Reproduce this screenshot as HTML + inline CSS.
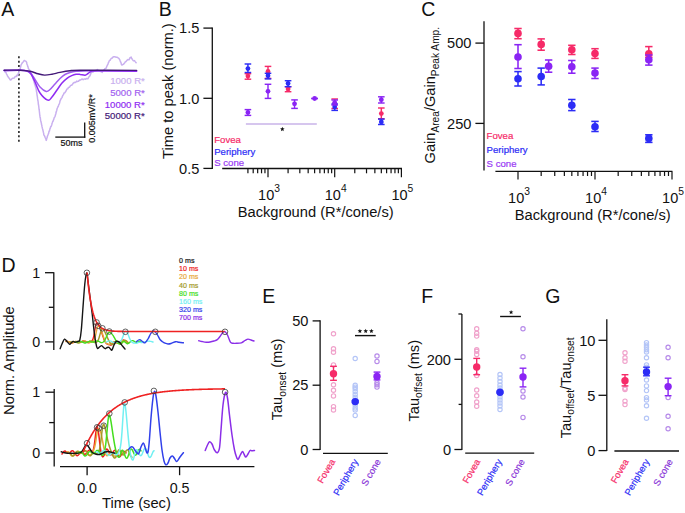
<!DOCTYPE html>
<html><head><meta charset="utf-8"><style>html,body{margin:0;padding:0;background:#fff;width:685px;height:513px;overflow:hidden;}svg{display:block;}text{font-family:"Liberation Sans", sans-serif;}</style></head><body>
<svg width="685" height="513" viewBox="0 0 685 513">
<rect width="685" height="513" fill="#fff"/>
<text x="1.20" y="15.70" font-size="19.5" fill="#111111"  text-anchor="start" >A</text>
<text x="158.70" y="15.70" font-size="19.5" fill="#111111"  text-anchor="start" >B</text>
<text x="421.20" y="15.50" font-size="19.5" fill="#111111"  text-anchor="start" >C</text>
<text x="1.60" y="271.60" font-size="19.5" fill="#111111"  text-anchor="start" >D</text>
<text x="262.30" y="303.40" font-size="19.5" fill="#111111"  text-anchor="start" >E</text>
<text x="421.30" y="303.40" font-size="19.5" fill="#111111"  text-anchor="start" >F</text>
<text x="545.30" y="303.30" font-size="19.5" fill="#111111"  text-anchor="start" >G</text>
<line x1="18.90" y1="56.30" x2="18.90" y2="141.80" stroke="#222" stroke-width="1.6" stroke-dasharray="2 2.39"/>
<path d="M4.10,70.31 L4.73,70.95 L5.37,72.33 L6.00,72.53 L6.40,73.84 L6.80,74.45 L7.20,74.91 L7.60,76.21 L8.00,76.49 L8.55,77.68 L9.10,78.03 L9.65,78.80 L10.20,79.92 L11.10,79.86 L12.00,78.59 L12.75,78.20 L13.50,78.14 L14.17,77.99 L14.83,77.08 L15.50,76.39 L16.23,76.59 L16.97,75.13 L17.70,75.59 L18.06,74.13 L18.42,73.13 L18.78,72.26 L19.14,71.63 L19.50,71.35 L19.72,69.87 L19.94,69.53 L20.17,68.82 L20.39,67.75 L20.61,67.16 L20.83,65.85 L21.06,65.07 L21.28,64.45 L21.50,64.20 L22.02,63.29 L22.53,62.53 L23.05,62.19 L23.57,61.42 L24.08,60.61 L24.60,60.52 L25.23,61.02 L25.87,61.12 L26.50,62.08 L26.73,62.82 L26.97,63.99 L27.20,64.62 L27.43,64.92 L27.67,66.47 L27.90,66.31 L28.13,67.43 L28.37,68.59 L28.60,68.72 L29.10,69.81 L29.60,70.04 L30.10,71.46 L30.60,72.29 L30.90,72.83 L31.20,73.91 L31.50,74.05 L31.80,75.21 L32.10,75.85 L32.40,76.59 L32.70,77.20 L33.00,78.37 L33.23,79.29 L33.46,79.57 L33.69,80.58 L33.92,80.72 L34.15,82.22 L34.38,82.96 L34.62,84.14 L34.85,84.75 L35.08,84.96 L35.31,85.87 L35.54,86.99 L35.77,87.07 L36.00,88.36 L36.13,88.87 L36.27,89.66 L36.40,90.43 L36.53,92.06 L36.67,92.19 L36.80,93.16 L36.93,94.16 L37.07,95.53 L37.20,95.50 L37.33,96.74 L37.47,97.69 L37.60,98.90 L37.73,99.67 L37.87,100.56 L38.00,100.76 L38.11,101.72 L38.21,102.48 L38.32,103.87 L38.42,104.77 L38.53,104.69 L38.63,105.54 L38.74,106.42 L38.84,107.23 L38.95,108.33 L39.05,109.26 L39.16,109.71 L39.26,110.24 L39.37,111.52 L39.47,112.28 L39.58,113.31 L39.68,114.55 L39.79,115.08 L39.89,115.70 L40.00,116.63 L40.15,117.50 L40.31,117.62 L40.46,119.36 L40.62,120.04 L40.77,120.95 L40.92,121.67 L41.08,122.04 L41.23,122.85 L41.38,123.33 L41.54,124.72 L41.69,124.90 L41.85,125.72 L42.00,126.68 L42.20,127.43 L42.40,128.42 L42.60,128.91 L42.80,129.65 L43.00,130.62 L43.20,131.36 L43.40,132.45 L43.60,132.88 L43.80,134.61 L44.00,135.13 L44.37,135.45 L44.73,136.39 L45.10,137.33 L45.47,138.18 L45.83,138.75 L46.20,140.38 L46.50,139.71 L46.80,138.30 L47.10,137.48 L47.40,136.21 L47.70,135.40 L48.00,134.83 L48.29,133.88 L48.57,133.65 L48.86,132.06 L49.14,131.05 L49.43,131.21 L49.71,129.89 L50.00,128.61 L50.30,128.26 L50.60,126.90 L50.90,126.67 L51.20,126.38 L51.50,125.46 L51.80,124.49 L52.10,123.22 L52.40,122.55 L52.73,121.50 L53.05,121.32 L53.38,120.22 L53.70,119.66 L54.02,118.33 L54.35,117.37 L54.67,117.18 L55.00,116.53 L55.25,115.59 L55.50,114.74 L55.75,113.95 L56.00,113.06 L56.25,111.70 L56.50,111.22 L56.75,110.24 L57.00,109.08 L57.25,108.28 L57.50,107.76 L57.80,106.95 L58.10,106.63 L58.40,106.14 L58.70,104.79 L59.00,104.54 L59.30,103.80 L59.60,102.98 L59.90,101.54 L60.20,100.59 L60.55,99.86 L60.90,99.09 L61.25,98.36 L61.60,98.09 L61.95,97.65 L62.30,96.85 L62.65,95.71 L63.00,95.17 L63.50,94.62 L64.00,93.11 L64.50,93.03 L65.00,92.59 L65.50,91.74 L66.00,90.99 L66.50,89.98 L67.12,88.90 L67.75,88.82 L68.38,87.57 L69.00,87.33 L69.67,86.97 L70.35,85.79 L71.03,85.24 L71.70,85.29 L72.36,84.53 L73.02,83.40 L73.68,82.83 L74.34,82.34 L75.00,82.65 L75.82,82.19 L76.63,81.11 L77.45,81.51 L78.27,81.33 L79.08,80.62 L79.90,79.94 L80.72,79.93 L81.54,79.25 L82.36,78.91 L83.18,79.74 L84.00,79.16 L84.80,78.89 L85.60,79.20 L86.40,78.51 L87.20,78.85 L88.00,78.66 L88.67,77.22 L89.33,76.49 L90.00,75.77 L90.33,74.71 L90.67,74.10 L91.00,72.74 L91.75,72.41 L92.50,71.59 L93.25,71.95 L94.00,70.84 L94.85,70.60 L95.70,70.39 L96.55,70.39 L97.40,69.51 L98.27,70.53 L99.13,70.54 L100.00,71.04 L100.70,71.53 L101.40,71.47 L102.10,72.43 L102.73,71.32 L103.37,70.29 L104.00,70.33 L104.73,68.91 L105.47,68.50 L106.20,68.05 L106.56,67.06 L106.92,66.01 L107.29,65.42 L107.65,64.66 L108.01,64.11 L108.38,62.57 L108.74,62.27 L109.10,61.12 L109.58,60.47 L110.06,60.34 L110.54,59.37 L111.02,58.75 L111.50,58.29 L112.27,58.02 L113.03,57.07 L113.80,56.82 L114.67,56.86 L115.55,57.01 L116.42,57.36 L117.30,57.25 L118.07,57.90 L118.83,58.41 L119.60,59.49 L119.90,60.03 L120.20,61.04 L120.50,61.92 L120.80,61.99 L121.10,63.13 L121.40,64.36 L121.70,65.06 L122.00,65.10 L122.77,64.48 L123.53,64.24 L124.30,63.23 L124.78,62.71 L125.26,61.83 L125.74,61.79 L126.22,61.21 L126.70,60.64 L127.85,59.52 L129.00,59.84 L129.45,59.05 L129.90,57.76 L130.35,57.85 L130.80,57.21 L131.23,57.12 L131.65,58.65 L132.07,58.76 L132.50,59.59 L133.17,60.61 L133.83,60.90 L134.50,60.63 L135.20,61.62 L135.90,62.42 L136.60,63.10" fill="none" stroke="#c9b0ef" stroke-width="1.5" stroke-linejoin="round" />
<path d="M4.10,70.50 C6.75,70.47 16.18,70.22 20.00,70.30 C23.82,70.38 25.17,70.47 27.00,71.00 C28.83,71.53 29.67,72.08 31.00,73.50 C32.33,74.92 33.50,77.25 35.00,79.50 C36.50,81.75 38.13,85.00 40.00,87.00 C41.87,89.00 44.53,91.08 46.20,91.50 C47.87,91.92 48.53,90.75 50.00,89.50 C51.47,88.25 53.33,85.83 55.00,84.00 C56.67,82.17 58.33,80.08 60.00,78.50 C61.67,76.92 63.33,75.50 65.00,74.50 C66.67,73.50 68.17,73.03 70.00,72.50 C71.83,71.97 73.67,71.57 76.00,71.30 C78.33,71.03 80.00,70.98 84.00,70.90 C88.00,70.82 91.23,70.83 100.00,70.80 C108.77,70.77 130.50,70.72 136.60,70.70" fill="none" stroke="#a25ff0" stroke-width="1.5" stroke-linejoin="round" stroke-linecap="round" />
<path d="M4.10,70.50 C6.75,70.47 16.18,70.22 20.00,70.30 C23.82,70.38 25.17,70.38 27.00,71.00 C28.83,71.62 29.67,72.17 31.00,74.00 C32.33,75.83 33.50,78.83 35.00,82.00 C36.50,85.17 37.87,89.98 40.00,93.00 C42.13,96.02 45.80,99.43 47.80,100.10 C49.80,100.77 50.47,98.68 52.00,97.00 C53.53,95.32 55.33,92.33 57.00,90.00 C58.67,87.67 60.33,84.95 62.00,83.00 C63.67,81.05 65.38,79.53 67.00,78.30 C68.62,77.07 70.20,76.27 71.70,75.60 C73.20,74.93 74.62,74.50 76.00,74.30 C77.38,74.10 78.48,74.25 80.00,74.40 C81.52,74.55 83.77,75.35 85.10,75.20 C86.43,75.05 86.92,74.15 88.00,73.50 C89.08,72.85 89.60,71.75 91.60,71.30 C93.60,70.85 92.50,70.82 100.00,70.80 C107.50,70.78 130.50,71.13 136.60,71.20" fill="none" stroke="#8f2cf2" stroke-width="1.5" stroke-linejoin="round" stroke-linecap="round" />
<path d="M4.10,70.20 C6.75,70.20 15.68,70.03 20.00,70.20 C24.32,70.37 27.00,70.60 30.00,71.20 C33.00,71.80 35.57,73.15 38.00,73.80 C40.43,74.45 42.27,75.03 44.60,75.10 C46.93,75.17 49.43,74.65 52.00,74.20 C54.57,73.75 57.00,72.97 60.00,72.40 C63.00,71.83 66.67,71.15 70.00,70.80 C73.33,70.45 68.90,70.37 80.00,70.30 C91.10,70.23 127.17,70.38 136.60,70.40" fill="none" stroke="#431878" stroke-width="1.4" stroke-linejoin="round" stroke-linecap="round" />
<line x1="55.30" y1="137.10" x2="85.30" y2="137.10" stroke="#111111" stroke-width="1.3" />
<line x1="84.70" y1="122.50" x2="84.70" y2="137.70" stroke="#111111" stroke-width="1.3" />
<text x="82.40" y="146.10" font-size="9.0" fill="#111111" stroke="#111111" stroke-width="0.2" text-anchor="end" >50ms</text>
<text transform="translate(95.4,142.8) rotate(-90)" font-size="9.0" fill="#111111" stroke="#111111" stroke-width="0.2">0.005mV/R*</text>
<text x="144.80" y="83.60" font-size="9.6" fill="#c9b0ef" stroke="#c9b0ef" stroke-width="0.2" text-anchor="end" >1000 R*</text>
<text x="144.80" y="95.60" font-size="9.6" fill="#a25ff0" stroke="#a25ff0" stroke-width="0.2" text-anchor="end" >5000 R*</text>
<text x="144.80" y="107.50" font-size="9.6" fill="#8f2cf2" stroke="#8f2cf2" stroke-width="0.2" text-anchor="end" >10000 R*</text>
<text x="144.80" y="119.10" font-size="9.6" fill="#431878" stroke="#431878" stroke-width="0.2" text-anchor="end" >50000 R*</text>
<line x1="212.30" y1="27.50" x2="212.30" y2="169.10" stroke="#111111" stroke-width="1.3" />
<line x1="203.40" y1="28.10" x2="212.30" y2="28.10" stroke="#111111" stroke-width="1.3" />
<text x="199.40" y="33.40" font-size="14.6" fill="#111111"  text-anchor="end" >1.5</text>
<line x1="203.40" y1="98.30" x2="212.30" y2="98.30" stroke="#111111" stroke-width="1.3" />
<text x="199.40" y="103.60" font-size="14.6" fill="#111111"  text-anchor="end" >1.0</text>
<line x1="203.40" y1="168.40" x2="212.30" y2="168.40" stroke="#111111" stroke-width="1.3" />
<text x="199.40" y="173.70" font-size="14.6" fill="#111111"  text-anchor="end" >0.5</text>
<line x1="222.20" y1="168.50" x2="402.00" y2="168.50" stroke="#111111" stroke-width="1.3" />
<line x1="247.92" y1="168.50" x2="247.92" y2="173.30" stroke="#111111" stroke-width="1.2" />
<line x1="253.20" y1="168.50" x2="253.20" y2="173.30" stroke="#111111" stroke-width="1.2" />
<line x1="257.67" y1="168.50" x2="257.67" y2="173.30" stroke="#111111" stroke-width="1.2" />
<line x1="261.54" y1="168.50" x2="261.54" y2="173.30" stroke="#111111" stroke-width="1.2" />
<line x1="264.95" y1="168.50" x2="264.95" y2="173.30" stroke="#111111" stroke-width="1.2" />
<line x1="268.00" y1="168.50" x2="268.00" y2="177.20" stroke="#111111" stroke-width="1.2" />
<line x1="288.08" y1="168.50" x2="288.08" y2="173.30" stroke="#111111" stroke-width="1.2" />
<line x1="299.82" y1="168.50" x2="299.82" y2="173.30" stroke="#111111" stroke-width="1.2" />
<line x1="308.16" y1="168.50" x2="308.16" y2="173.30" stroke="#111111" stroke-width="1.2" />
<line x1="314.62" y1="168.50" x2="314.62" y2="173.30" stroke="#111111" stroke-width="1.2" />
<line x1="319.90" y1="168.50" x2="319.90" y2="173.30" stroke="#111111" stroke-width="1.2" />
<line x1="324.37" y1="168.50" x2="324.37" y2="173.30" stroke="#111111" stroke-width="1.2" />
<line x1="328.24" y1="168.50" x2="328.24" y2="173.30" stroke="#111111" stroke-width="1.2" />
<line x1="331.65" y1="168.50" x2="331.65" y2="173.30" stroke="#111111" stroke-width="1.2" />
<line x1="334.70" y1="168.50" x2="334.70" y2="177.20" stroke="#111111" stroke-width="1.2" />
<line x1="354.78" y1="168.50" x2="354.78" y2="173.30" stroke="#111111" stroke-width="1.2" />
<line x1="366.52" y1="168.50" x2="366.52" y2="173.30" stroke="#111111" stroke-width="1.2" />
<line x1="374.86" y1="168.50" x2="374.86" y2="173.30" stroke="#111111" stroke-width="1.2" />
<line x1="381.32" y1="168.50" x2="381.32" y2="173.30" stroke="#111111" stroke-width="1.2" />
<line x1="386.60" y1="168.50" x2="386.60" y2="173.30" stroke="#111111" stroke-width="1.2" />
<line x1="391.07" y1="168.50" x2="391.07" y2="173.30" stroke="#111111" stroke-width="1.2" />
<line x1="394.94" y1="168.50" x2="394.94" y2="173.30" stroke="#111111" stroke-width="1.2" />
<line x1="398.35" y1="168.50" x2="398.35" y2="173.30" stroke="#111111" stroke-width="1.2" />
<line x1="401.40" y1="168.50" x2="401.40" y2="177.20" stroke="#111111" stroke-width="1.2" />
<text x="269.00" y="199.90" font-size="14.5" fill="#111111" text-anchor="middle">10<tspan font-size="10.3" dy="-8.1">3</tspan></text>
<text x="335.70" y="199.90" font-size="14.5" fill="#111111" text-anchor="middle">10<tspan font-size="10.3" dy="-8.1">4</tspan></text>
<text x="402.40" y="199.90" font-size="14.5" fill="#111111" text-anchor="middle">10<tspan font-size="10.3" dy="-8.1">5</tspan></text>
<text x="315.70" y="216.90" font-size="14.7" fill="#111111"  text-anchor="middle" >Background (R*/cone/s)</text>
<text transform="translate(172.6,159.0) rotate(-90)" font-size="14.7" fill="#111111">Time to peak (norm.)</text>
<text x="214.20" y="143.00" font-size="9.6" fill="#f62a68" stroke="#f62a68" stroke-width="0.2" text-anchor="start" >Fovea</text>
<text x="214.20" y="154.50" font-size="9.6" fill="#2c2cf6" stroke="#2c2cf6" stroke-width="0.2" text-anchor="start" >Periphery</text>
<text x="214.20" y="165.60" font-size="9.6" fill="#9838f4" stroke="#9838f4" stroke-width="0.2" text-anchor="start" >S cone</text>
<line x1="245.90" y1="123.90" x2="316.80" y2="123.90" stroke="#d6c6ee" stroke-width="2.0" />
<polygon points="282.35,126.80 282.97,128.35 284.63,128.46 283.35,129.52 283.76,131.14 282.35,130.25 280.94,131.14 281.35,129.52 280.07,128.46 281.73,128.35" fill="#111111"/>
<line x1="247.92" y1="73.70" x2="247.92" y2="79.20" stroke="#f62a68" stroke-width="1.45" />
<line x1="244.62" y1="73.70" x2="251.22" y2="73.70" stroke="#f62a68" stroke-width="1.45" />
<line x1="244.62" y1="79.20" x2="251.22" y2="79.20" stroke="#f62a68" stroke-width="1.45" />
<circle cx="247.92" cy="76.10" r="2.4" fill="#f62a68" />
<line x1="247.92" y1="64.00" x2="247.92" y2="72.50" stroke="#2c2cf6" stroke-width="1.45" />
<line x1="244.62" y1="64.00" x2="251.22" y2="64.00" stroke="#2c2cf6" stroke-width="1.45" />
<line x1="244.62" y1="72.50" x2="251.22" y2="72.50" stroke="#2c2cf6" stroke-width="1.45" />
<circle cx="247.92" cy="68.60" r="2.4" fill="#2c2cf6" />
<line x1="247.92" y1="109.60" x2="247.92" y2="115.40" stroke="#8a24f4" stroke-width="1.45" />
<line x1="244.62" y1="109.60" x2="251.22" y2="109.60" stroke="#8a24f4" stroke-width="1.45" />
<line x1="244.62" y1="115.40" x2="251.22" y2="115.40" stroke="#8a24f4" stroke-width="1.45" />
<circle cx="247.92" cy="112.40" r="2.4" fill="#8a24f4" />
<line x1="268.00" y1="66.40" x2="268.00" y2="78.40" stroke="#f62a68" stroke-width="1.45" />
<line x1="264.70" y1="66.40" x2="271.30" y2="66.40" stroke="#f62a68" stroke-width="1.45" />
<line x1="264.70" y1="78.40" x2="271.30" y2="78.40" stroke="#f62a68" stroke-width="1.45" />
<circle cx="268.00" cy="71.40" r="2.4" fill="#f62a68" />
<line x1="268.00" y1="73.30" x2="268.00" y2="78.90" stroke="#2c2cf6" stroke-width="1.45" />
<line x1="264.70" y1="73.30" x2="271.30" y2="73.30" stroke="#2c2cf6" stroke-width="1.45" />
<line x1="264.70" y1="78.90" x2="271.30" y2="78.90" stroke="#2c2cf6" stroke-width="1.45" />
<circle cx="268.00" cy="75.70" r="2.4" fill="#2c2cf6" />
<line x1="268.00" y1="84.30" x2="268.00" y2="98.40" stroke="#8a24f4" stroke-width="1.45" />
<line x1="264.70" y1="84.30" x2="271.30" y2="84.30" stroke="#8a24f4" stroke-width="1.45" />
<line x1="264.70" y1="98.40" x2="271.30" y2="98.40" stroke="#8a24f4" stroke-width="1.45" />
<circle cx="268.00" cy="91.30" r="2.4" fill="#8a24f4" />
<line x1="288.08" y1="86.70" x2="288.08" y2="91.70" stroke="#f62a68" stroke-width="1.45" />
<line x1="284.78" y1="86.70" x2="291.38" y2="86.70" stroke="#f62a68" stroke-width="1.45" />
<line x1="284.78" y1="91.70" x2="291.38" y2="91.70" stroke="#f62a68" stroke-width="1.45" />
<circle cx="288.08" cy="89.00" r="2.4" fill="#f62a68" />
<line x1="288.08" y1="80.70" x2="288.08" y2="86.70" stroke="#2c2cf6" stroke-width="1.45" />
<line x1="284.78" y1="80.70" x2="291.38" y2="80.70" stroke="#2c2cf6" stroke-width="1.45" />
<line x1="284.78" y1="86.70" x2="291.38" y2="86.70" stroke="#2c2cf6" stroke-width="1.45" />
<circle cx="288.08" cy="83.50" r="2.4" fill="#2c2cf6" />
<line x1="294.54" y1="99.90" x2="294.54" y2="108.40" stroke="#8a24f4" stroke-width="1.45" />
<line x1="291.24" y1="99.90" x2="297.84" y2="99.90" stroke="#8a24f4" stroke-width="1.45" />
<line x1="291.24" y1="108.40" x2="297.84" y2="108.40" stroke="#8a24f4" stroke-width="1.45" />
<circle cx="294.54" cy="103.80" r="2.4" fill="#8a24f4" />
<line x1="311.32" y1="98.50" x2="317.92" y2="98.50" stroke="#8a24f4" stroke-width="1.45" />
<line x1="311.32" y1="98.50" x2="317.92" y2="98.50" stroke="#8a24f4" stroke-width="1.45" />
<circle cx="314.62" cy="98.50" r="2.4" fill="#8a24f4" />
<line x1="334.70" y1="99.00" x2="334.70" y2="108.50" stroke="#f62a68" stroke-width="1.45" />
<line x1="331.40" y1="99.00" x2="338.00" y2="99.00" stroke="#f62a68" stroke-width="1.45" />
<line x1="331.40" y1="108.50" x2="338.00" y2="108.50" stroke="#f62a68" stroke-width="1.45" />
<circle cx="334.70" cy="104.00" r="2.4" fill="#f62a68" />
<line x1="334.70" y1="104.00" x2="334.70" y2="110.40" stroke="#2c2cf6" stroke-width="1.45" />
<line x1="331.40" y1="104.00" x2="338.00" y2="104.00" stroke="#2c2cf6" stroke-width="1.45" />
<line x1="331.40" y1="110.40" x2="338.00" y2="110.40" stroke="#2c2cf6" stroke-width="1.45" />
<circle cx="334.70" cy="107.00" r="2.4" fill="#2c2cf6" />
<line x1="334.70" y1="100.00" x2="334.70" y2="105.00" stroke="#8a24f4" stroke-width="1.45" />
<line x1="331.40" y1="100.00" x2="338.00" y2="100.00" stroke="#8a24f4" stroke-width="1.45" />
<line x1="331.40" y1="105.00" x2="338.00" y2="105.00" stroke="#8a24f4" stroke-width="1.45" />
<circle cx="334.70" cy="102.60" r="2.4" fill="#8a24f4" />
<line x1="381.32" y1="108.00" x2="381.32" y2="118.70" stroke="#f62a68" stroke-width="1.45" />
<line x1="378.02" y1="108.00" x2="384.62" y2="108.00" stroke="#f62a68" stroke-width="1.45" />
<line x1="378.02" y1="118.70" x2="384.62" y2="118.70" stroke="#f62a68" stroke-width="1.45" />
<circle cx="381.32" cy="113.60" r="2.4" fill="#f62a68" />
<line x1="381.32" y1="119.10" x2="381.32" y2="124.50" stroke="#2c2cf6" stroke-width="1.45" />
<line x1="378.02" y1="119.10" x2="384.62" y2="119.10" stroke="#2c2cf6" stroke-width="1.45" />
<line x1="378.02" y1="124.50" x2="384.62" y2="124.50" stroke="#2c2cf6" stroke-width="1.45" />
<circle cx="381.32" cy="121.90" r="2.4" fill="#2c2cf6" />
<line x1="381.32" y1="96.80" x2="381.32" y2="103.00" stroke="#8a24f4" stroke-width="1.45" />
<line x1="378.02" y1="96.80" x2="384.62" y2="96.80" stroke="#8a24f4" stroke-width="1.45" />
<line x1="378.02" y1="103.00" x2="384.62" y2="103.00" stroke="#8a24f4" stroke-width="1.45" />
<circle cx="381.32" cy="99.70" r="2.4" fill="#8a24f4" />
<line x1="484.00" y1="21.30" x2="484.00" y2="170.40" stroke="#111111" stroke-width="1.3" />
<line x1="475.40" y1="43.10" x2="484.00" y2="43.10" stroke="#111111" stroke-width="1.3" />
<text x="471.40" y="48.40" font-size="14.6" fill="#111111"  text-anchor="end" >500</text>
<line x1="475.40" y1="123.40" x2="484.00" y2="123.40" stroke="#111111" stroke-width="1.3" />
<text x="471.40" y="128.70" font-size="14.6" fill="#111111"  text-anchor="end" >250</text>
<line x1="495.40" y1="171.40" x2="672.40" y2="171.40" stroke="#111111" stroke-width="1.3" />
<line x1="518.00" y1="171.40" x2="518.00" y2="179.40" stroke="#111111" stroke-width="1.2" />
<line x1="541.18" y1="171.40" x2="541.18" y2="176.00" stroke="#111111" stroke-width="1.2" />
<line x1="554.74" y1="171.40" x2="554.74" y2="176.00" stroke="#111111" stroke-width="1.2" />
<line x1="564.36" y1="171.40" x2="564.36" y2="176.00" stroke="#111111" stroke-width="1.2" />
<line x1="571.82" y1="171.40" x2="571.82" y2="176.00" stroke="#111111" stroke-width="1.2" />
<line x1="577.92" y1="171.40" x2="577.92" y2="176.00" stroke="#111111" stroke-width="1.2" />
<line x1="583.07" y1="171.40" x2="583.07" y2="176.00" stroke="#111111" stroke-width="1.2" />
<line x1="587.54" y1="171.40" x2="587.54" y2="176.00" stroke="#111111" stroke-width="1.2" />
<line x1="591.48" y1="171.40" x2="591.48" y2="176.00" stroke="#111111" stroke-width="1.2" />
<line x1="595.00" y1="171.40" x2="595.00" y2="179.40" stroke="#111111" stroke-width="1.2" />
<line x1="618.18" y1="171.40" x2="618.18" y2="176.00" stroke="#111111" stroke-width="1.2" />
<line x1="631.74" y1="171.40" x2="631.74" y2="176.00" stroke="#111111" stroke-width="1.2" />
<line x1="641.36" y1="171.40" x2="641.36" y2="176.00" stroke="#111111" stroke-width="1.2" />
<line x1="648.82" y1="171.40" x2="648.82" y2="176.00" stroke="#111111" stroke-width="1.2" />
<line x1="654.92" y1="171.40" x2="654.92" y2="176.00" stroke="#111111" stroke-width="1.2" />
<line x1="660.07" y1="171.40" x2="660.07" y2="176.00" stroke="#111111" stroke-width="1.2" />
<line x1="664.54" y1="171.40" x2="664.54" y2="176.00" stroke="#111111" stroke-width="1.2" />
<line x1="668.48" y1="171.40" x2="668.48" y2="176.00" stroke="#111111" stroke-width="1.2" />
<line x1="672.00" y1="171.40" x2="672.00" y2="179.40" stroke="#111111" stroke-width="1.2" />
<text x="519.00" y="202.70" font-size="14.5" fill="#111111" text-anchor="middle">10<tspan font-size="10.3" dy="-8.1">3</tspan></text>
<text x="596.00" y="202.70" font-size="14.5" fill="#111111" text-anchor="middle">10<tspan font-size="10.3" dy="-8.1">4</tspan></text>
<text x="673.00" y="202.70" font-size="14.5" fill="#111111" text-anchor="middle">10<tspan font-size="10.3" dy="-8.1">5</tspan></text>
<text x="592.70" y="220.30" font-size="14.7" fill="#111111"  text-anchor="middle" >Background (R*/cone/s)</text>
<text transform="translate(435.2,163.4) rotate(-90)" font-size="14.6" fill="#111111">Gain<tspan font-size="10.2" dy="4">Area</tspan><tspan dy="-4">/Gain</tspan><tspan font-size="10.2" dy="4">Peak Amp.</tspan></text>
<text x="486.60" y="139.30" font-size="9.6" fill="#f62a68" stroke="#f62a68" stroke-width="0.2" text-anchor="start" >Fovea</text>
<text x="486.60" y="152.60" font-size="9.6" fill="#2c2cf6" stroke="#2c2cf6" stroke-width="0.2" text-anchor="start" >Periphery</text>
<text x="486.60" y="166.50" font-size="9.6" fill="#9838f4" stroke="#9838f4" stroke-width="0.2" text-anchor="start" >S cone</text>
<line x1="518.00" y1="28.50" x2="518.00" y2="38.70" stroke="#f62a68" stroke-width="1.55" />
<line x1="514.30" y1="28.50" x2="521.70" y2="28.50" stroke="#f62a68" stroke-width="1.55" />
<line x1="514.30" y1="38.70" x2="521.70" y2="38.70" stroke="#f62a68" stroke-width="1.55" />
<circle cx="518.00" cy="33.40" r="3.8" fill="#f62a68" />
<line x1="518.00" y1="71.60" x2="518.00" y2="86.00" stroke="#2c2cf6" stroke-width="1.55" />
<line x1="514.30" y1="71.60" x2="521.70" y2="71.60" stroke="#2c2cf6" stroke-width="1.55" />
<line x1="514.30" y1="86.00" x2="521.70" y2="86.00" stroke="#2c2cf6" stroke-width="1.55" />
<circle cx="518.00" cy="78.80" r="3.8" fill="#2c2cf6" />
<line x1="518.00" y1="44.70" x2="518.00" y2="68.50" stroke="#8a24f4" stroke-width="1.55" />
<line x1="514.30" y1="44.70" x2="521.70" y2="44.70" stroke="#8a24f4" stroke-width="1.55" />
<line x1="514.30" y1="68.50" x2="521.70" y2="68.50" stroke="#8a24f4" stroke-width="1.55" />
<circle cx="518.00" cy="57.00" r="3.8" fill="#8a24f4" />
<line x1="541.18" y1="38.90" x2="541.18" y2="50.20" stroke="#f62a68" stroke-width="1.55" />
<line x1="537.48" y1="38.90" x2="544.88" y2="38.90" stroke="#f62a68" stroke-width="1.55" />
<line x1="537.48" y1="50.20" x2="544.88" y2="50.20" stroke="#f62a68" stroke-width="1.55" />
<circle cx="541.18" cy="44.40" r="3.8" fill="#f62a68" />
<line x1="541.18" y1="68.10" x2="541.18" y2="84.90" stroke="#2c2cf6" stroke-width="1.55" />
<line x1="537.48" y1="68.10" x2="544.88" y2="68.10" stroke="#2c2cf6" stroke-width="1.55" />
<line x1="537.48" y1="84.90" x2="544.88" y2="84.90" stroke="#2c2cf6" stroke-width="1.55" />
<circle cx="541.18" cy="76.50" r="3.8" fill="#2c2cf6" />
<line x1="548.64" y1="60.00" x2="548.64" y2="72.20" stroke="#8a24f4" stroke-width="1.55" />
<line x1="544.94" y1="60.00" x2="552.34" y2="60.00" stroke="#8a24f4" stroke-width="1.55" />
<line x1="544.94" y1="72.20" x2="552.34" y2="72.20" stroke="#8a24f4" stroke-width="1.55" />
<circle cx="548.64" cy="66.20" r="3.8" fill="#8a24f4" />
<line x1="571.82" y1="45.30" x2="571.82" y2="54.50" stroke="#f62a68" stroke-width="1.55" />
<line x1="568.12" y1="45.30" x2="575.52" y2="45.30" stroke="#f62a68" stroke-width="1.55" />
<line x1="568.12" y1="54.50" x2="575.52" y2="54.50" stroke="#f62a68" stroke-width="1.55" />
<circle cx="571.82" cy="49.80" r="3.8" fill="#f62a68" />
<line x1="571.82" y1="99.50" x2="571.82" y2="110.60" stroke="#2c2cf6" stroke-width="1.55" />
<line x1="568.12" y1="99.50" x2="575.52" y2="99.50" stroke="#2c2cf6" stroke-width="1.55" />
<line x1="568.12" y1="110.60" x2="575.52" y2="110.60" stroke="#2c2cf6" stroke-width="1.55" />
<circle cx="571.82" cy="105.20" r="3.8" fill="#2c2cf6" />
<line x1="571.82" y1="60.50" x2="571.82" y2="73.20" stroke="#8a24f4" stroke-width="1.55" />
<line x1="568.12" y1="60.50" x2="575.52" y2="60.50" stroke="#8a24f4" stroke-width="1.55" />
<line x1="568.12" y1="73.20" x2="575.52" y2="73.20" stroke="#8a24f4" stroke-width="1.55" />
<circle cx="571.82" cy="66.80" r="3.8" fill="#8a24f4" />
<line x1="595.00" y1="48.70" x2="595.00" y2="58.40" stroke="#f62a68" stroke-width="1.55" />
<line x1="591.30" y1="48.70" x2="598.70" y2="48.70" stroke="#f62a68" stroke-width="1.55" />
<line x1="591.30" y1="58.40" x2="598.70" y2="58.40" stroke="#f62a68" stroke-width="1.55" />
<circle cx="595.00" cy="53.50" r="3.8" fill="#f62a68" />
<line x1="595.00" y1="121.40" x2="595.00" y2="131.50" stroke="#2c2cf6" stroke-width="1.55" />
<line x1="591.30" y1="121.40" x2="598.70" y2="121.40" stroke="#2c2cf6" stroke-width="1.55" />
<line x1="591.30" y1="131.50" x2="598.70" y2="131.50" stroke="#2c2cf6" stroke-width="1.55" />
<circle cx="595.00" cy="126.70" r="3.8" fill="#2c2cf6" />
<line x1="595.00" y1="68.10" x2="595.00" y2="78.50" stroke="#8a24f4" stroke-width="1.55" />
<line x1="591.30" y1="68.10" x2="598.70" y2="68.10" stroke="#8a24f4" stroke-width="1.55" />
<line x1="591.30" y1="78.50" x2="598.70" y2="78.50" stroke="#8a24f4" stroke-width="1.55" />
<circle cx="595.00" cy="73.00" r="3.8" fill="#8a24f4" />
<line x1="648.82" y1="46.60" x2="648.82" y2="57.30" stroke="#f62a68" stroke-width="1.55" />
<line x1="645.12" y1="46.60" x2="652.52" y2="46.60" stroke="#f62a68" stroke-width="1.55" />
<line x1="645.12" y1="57.30" x2="652.52" y2="57.30" stroke="#f62a68" stroke-width="1.55" />
<circle cx="648.82" cy="53.80" r="3.8" fill="#f62a68" />
<line x1="648.82" y1="134.80" x2="648.82" y2="142.40" stroke="#2c2cf6" stroke-width="1.55" />
<line x1="645.12" y1="134.80" x2="652.52" y2="134.80" stroke="#2c2cf6" stroke-width="1.55" />
<line x1="645.12" y1="142.40" x2="652.52" y2="142.40" stroke="#2c2cf6" stroke-width="1.55" />
<circle cx="648.82" cy="138.40" r="3.8" fill="#2c2cf6" />
<line x1="648.82" y1="55.00" x2="648.82" y2="65.10" stroke="#8a24f4" stroke-width="1.55" />
<line x1="645.12" y1="55.00" x2="652.52" y2="55.00" stroke="#8a24f4" stroke-width="1.55" />
<line x1="645.12" y1="65.10" x2="652.52" y2="65.10" stroke="#8a24f4" stroke-width="1.55" />
<circle cx="648.82" cy="59.80" r="3.8" fill="#8a24f4" />
<line x1="53.80" y1="272.20" x2="53.80" y2="349.90" stroke="#111111" stroke-width="1.3" />
<line x1="45.00" y1="272.70" x2="53.80" y2="272.70" stroke="#111111" stroke-width="1.3" />
<line x1="48.80" y1="307.30" x2="53.80" y2="307.30" stroke="#111111" stroke-width="1.3" />
<line x1="45.00" y1="341.90" x2="53.80" y2="341.90" stroke="#111111" stroke-width="1.3" />
<text x="40.20" y="277.60" font-size="14.3" fill="#111111"  text-anchor="end" >1</text>
<text x="40.20" y="346.90" font-size="14.3" fill="#111111"  text-anchor="end" >0</text>
<line x1="54.20" y1="389.00" x2="54.20" y2="466.40" stroke="#111111" stroke-width="1.3" />
<line x1="45.40" y1="392.20" x2="54.20" y2="392.20" stroke="#111111" stroke-width="1.3" />
<line x1="49.20" y1="422.60" x2="54.20" y2="422.60" stroke="#111111" stroke-width="1.3" />
<line x1="45.40" y1="453.00" x2="54.20" y2="453.00" stroke="#111111" stroke-width="1.3" />
<text x="40.20" y="397.20" font-size="14.3" fill="#111111"  text-anchor="end" >1</text>
<text x="40.20" y="458.10" font-size="14.3" fill="#111111"  text-anchor="end" >0</text>
<line x1="60.00" y1="466.60" x2="254.40" y2="466.60" stroke="#111111" stroke-width="1.3" />
<line x1="87.10" y1="466.60" x2="87.10" y2="475.20" stroke="#111111" stroke-width="1.3" />
<line x1="179.60" y1="466.60" x2="179.60" y2="475.20" stroke="#111111" stroke-width="1.3" />
<text x="87.10" y="493.40" font-size="14.3" fill="#111111"  text-anchor="middle" >0.0</text>
<text x="179.60" y="493.40" font-size="14.3" fill="#111111"  text-anchor="middle" >0.5</text>
<text x="136.40" y="508.20" font-size="14.7" fill="#111111"  text-anchor="middle" >Time (sec)</text>
<text transform="translate(14.4,414.9) rotate(-90)" font-size="14.7" fill="#111111">Norm. Amplitude</text>
<text x="179.10" y="262.50" font-size="7.1" fill="#151515" stroke="#151515" stroke-width="0.2" text-anchor="start" >0 ms</text>
<text x="179.10" y="270.70" font-size="7.1" fill="#ee1c1c" stroke="#ee1c1c" stroke-width="0.2" text-anchor="start" >10 ms</text>
<text x="179.10" y="278.50" font-size="7.1" fill="#e9a73a" stroke="#e9a73a" stroke-width="0.2" text-anchor="start" >20 ms</text>
<text x="179.10" y="288.30" font-size="7.1" fill="#a39a2a" stroke="#a39a2a" stroke-width="0.2" text-anchor="start" >40 ms</text>
<text x="179.10" y="295.90" font-size="7.1" fill="#44de1e" stroke="#44de1e" stroke-width="0.2" text-anchor="start" >80 ms</text>
<text x="179.10" y="303.60" font-size="7.1" fill="#72f0f2" stroke="#72f0f2" stroke-width="0.2" text-anchor="start" >160 ms</text>
<text x="179.10" y="311.70" font-size="7.1" fill="#3140ea" stroke="#3140ea" stroke-width="0.2" text-anchor="start" >320 ms</text>
<text x="179.10" y="320.40" font-size="7.1" fill="#8b2ee8" stroke="#8b2ee8" stroke-width="0.2" text-anchor="start" >700 ms</text>
<path d="M66.00,341.26 C66.17,341.26 66.67,341.19 67.00,341.24 C67.33,341.29 67.67,341.41 68.00,341.55 C68.33,341.69 68.67,341.91 69.00,342.09 C69.33,342.27 69.67,342.49 70.00,342.64 C70.33,342.78 70.67,342.90 71.00,342.95 C71.33,342.99 71.67,342.96 72.00,342.89 C72.33,342.82 72.67,342.66 73.00,342.52 C73.33,342.38 73.67,342.18 74.00,342.03 C74.33,341.89 74.67,341.74 75.00,341.67 C75.33,341.59 75.67,341.56 76.00,341.58 C76.33,341.59 76.67,341.68 77.00,341.76 C77.33,341.84 77.67,341.97 78.00,342.05 C78.33,342.13 78.67,342.21 79.00,342.23 C79.33,342.24 79.67,342.21 80.00,342.13 C80.33,342.05 80.67,341.90 81.00,341.76 C81.33,341.61 81.67,341.41 82.00,341.27 C82.33,341.12 82.67,340.97 83.00,340.90 C83.33,340.83 83.67,340.81 84.00,340.86 C84.33,340.90 84.67,341.03 85.00,341.17 C85.33,341.32 85.67,341.54 86.00,341.72 C86.33,341.90 86.67,342.12 87.00,342.26 C87.33,342.40 87.67,342.52 88.00,342.56 C88.33,342.61 88.67,342.59 89.00,342.53 C89.33,342.47 89.67,342.36 90.00,342.22 C90.33,342.09 90.67,341.96 91.00,341.75 C91.33,341.53 91.67,341.38 92.00,340.93 C92.33,340.48 92.67,340.02 93.00,339.05 C93.33,338.08 93.67,336.72 94.00,335.10 C94.33,333.47 94.67,331.09 95.00,329.29 C95.33,327.50 95.67,325.33 96.00,324.32 C96.33,323.31 96.67,323.34 97.00,323.24 C97.33,323.14 97.67,323.42 98.00,323.73 C98.33,324.03 98.67,324.47 99.00,325.05 C99.33,325.63 99.67,326.37 100.00,327.21 C100.33,328.04 100.67,329.04 101.00,330.05 C101.33,331.06 101.67,332.21 102.00,333.29 C102.33,334.37 102.67,335.52 103.00,336.54 C103.33,337.56 103.67,338.56 104.00,339.41 C104.33,340.25 104.67,341.00 105.00,341.61 C105.33,342.22 105.67,342.69 106.00,343.07 C106.33,343.46 106.67,343.70 107.00,343.92 C107.33,344.13 107.67,344.25 108.00,344.37 C108.33,344.50 108.67,344.58 109.00,344.67 C109.33,344.76 109.67,344.85 110.00,344.93 C110.33,345.00 110.67,345.19 111.00,345.12 C111.33,345.04 111.67,344.84 112.00,344.48 C112.33,344.12 112.67,343.36 113.00,342.94 C113.33,342.53 113.67,342.17 114.00,341.98 C114.33,341.79 114.67,341.75 115.00,341.79 C115.33,341.84 115.67,342.05 116.00,342.24 C116.33,342.43 116.67,342.73 117.00,342.92 C117.33,343.11 117.67,343.32 118.00,343.38 C118.33,343.45 118.67,343.43 119.00,343.31 C119.33,343.19 119.67,342.93 120.00,342.65 C120.33,342.37 120.67,341.96 121.00,341.62 C121.33,341.29 121.67,340.89 122.00,340.63 C122.33,340.37 122.67,340.15 123.00,340.07 C123.33,339.99 123.67,340.03 124.00,340.16 C124.33,340.29 124.67,340.57 125.00,340.85 C125.33,341.13 125.67,341.54 126.00,341.85 C126.33,342.17 126.67,342.53 127.00,342.76 C127.33,342.98 127.83,343.13 128.00,343.20" fill="none" stroke="#ee1c1c" stroke-width="1.4" stroke-linejoin="round" stroke-linecap="round" />
<path d="M66.00,341.58 C66.17,341.55 66.67,341.40 67.00,341.37 C67.33,341.35 67.67,341.36 68.00,341.43 C68.33,341.51 68.67,341.65 69.00,341.80 C69.33,341.96 69.67,342.18 70.00,342.34 C70.33,342.51 70.67,342.71 71.00,342.82 C71.33,342.92 71.67,343.00 72.00,343.00 C72.33,343.00 72.67,342.92 73.00,342.81 C73.33,342.70 73.67,342.51 74.00,342.35 C74.33,342.18 74.67,341.97 75.00,341.83 C75.33,341.68 75.67,341.55 76.00,341.49 C76.33,341.43 76.67,341.43 77.00,341.46 C77.33,341.49 77.67,341.60 78.00,341.68 C78.33,341.77 78.67,341.90 79.00,341.97 C79.33,342.05 79.67,342.12 80.00,342.12 C80.33,342.12 80.67,342.07 81.00,341.98 C81.33,341.89 81.67,341.74 82.00,341.60 C82.33,341.46 82.67,341.28 83.00,341.16 C83.33,341.05 83.67,340.94 84.00,340.91 C84.33,340.88 84.67,340.91 85.00,341.00 C85.33,341.08 85.67,341.25 86.00,341.42 C86.33,341.59 86.67,341.83 87.00,342.01 C87.33,342.19 87.67,342.39 88.00,342.51 C88.33,342.63 88.67,342.71 89.00,342.72 C89.33,342.74 89.67,342.68 90.00,342.60 C90.33,342.51 90.67,342.37 91.00,342.23 C91.33,342.10 91.67,341.95 92.00,341.78 C92.33,341.61 92.67,341.49 93.00,341.21 C93.33,340.92 93.67,340.67 94.00,340.06 C94.33,339.45 94.67,338.67 95.00,337.57 C95.33,336.47 95.67,334.89 96.00,333.45 C96.33,332.00 96.67,330.09 97.00,328.91 C97.33,327.73 97.67,326.79 98.00,326.36 C98.33,325.93 98.67,326.16 99.00,326.32 C99.33,326.49 99.67,326.84 100.00,327.35 C100.33,327.86 100.67,328.59 101.00,329.40 C101.33,330.21 101.67,331.22 102.00,332.22 C102.33,333.22 102.67,334.35 103.00,335.39 C103.33,336.43 103.67,337.52 104.00,338.46 C104.33,339.39 104.67,340.28 105.00,341.00 C105.33,341.72 105.67,342.32 106.00,342.78 C106.33,343.25 106.67,343.55 107.00,343.78 C107.33,344.01 107.67,344.10 108.00,344.17 C108.33,344.24 108.67,344.21 109.00,344.21 C109.33,344.20 109.67,344.16 110.00,344.15 C110.33,344.14 110.67,344.31 111.00,344.13 C111.33,343.94 111.67,343.34 112.00,343.03 C112.33,342.72 112.67,342.42 113.00,342.27 C113.33,342.12 113.67,342.09 114.00,342.12 C114.33,342.14 114.67,342.29 115.00,342.40 C115.33,342.52 115.67,342.71 116.00,342.81 C116.33,342.91 116.67,343.00 117.00,343.00 C117.33,343.01 117.67,342.94 118.00,342.83 C118.33,342.71 118.67,342.51 119.00,342.31 C119.33,342.11 119.67,341.85 120.00,341.64 C120.33,341.43 120.67,341.20 121.00,341.05 C121.33,340.90 121.67,340.78 122.00,340.73 C122.33,340.68 122.67,340.70 123.00,340.75 C123.33,340.81 123.67,340.94 124.00,341.07 C124.33,341.20 124.67,341.39 125.00,341.54 C125.33,341.70 125.67,341.88 126.00,342.01 C126.33,342.14 126.67,342.26 127.00,342.33 C127.33,342.40 127.83,342.42 128.00,342.44" fill="none" stroke="#e9a73a" stroke-width="1.4" stroke-linejoin="round" stroke-linecap="round" />
<path d="M70.00,342.06 C70.17,342.05 70.67,342.05 71.00,341.99 C71.33,341.94 71.67,341.81 72.00,341.72 C72.33,341.63 72.67,341.50 73.00,341.44 C73.33,341.38 73.67,341.33 74.00,341.36 C74.33,341.38 74.67,341.47 75.00,341.59 C75.33,341.71 75.67,341.91 76.00,342.08 C76.33,342.25 76.67,342.47 77.00,342.62 C77.33,342.76 77.67,342.90 78.00,342.96 C78.33,343.01 78.67,343.00 79.00,342.94 C79.33,342.88 79.67,342.73 80.00,342.59 C80.33,342.44 80.67,342.22 81.00,342.06 C81.33,341.90 81.67,341.72 82.00,341.62 C82.33,341.51 82.67,341.45 83.00,341.44 C83.33,341.43 83.67,341.49 84.00,341.56 C84.33,341.63 84.67,341.76 85.00,341.85 C85.33,341.94 85.67,342.05 86.00,342.08 C86.33,342.12 86.67,342.13 87.00,342.08 C87.33,342.03 87.67,341.92 88.00,341.80 C88.33,341.68 88.67,341.49 89.00,341.36 C89.33,341.22 89.67,341.07 90.00,340.99 C90.33,340.92 90.67,340.87 91.00,340.91 C91.33,340.94 91.67,341.05 92.00,341.18 C92.33,341.32 92.67,341.54 93.00,341.72 C93.33,341.91 93.67,342.14 94.00,342.29 C94.33,342.44 94.67,342.59 95.00,342.63 C95.33,342.67 95.67,342.67 96.00,342.55 C96.33,342.42 96.67,342.23 97.00,341.88 C97.33,341.53 97.67,341.10 98.00,340.44 C98.33,339.79 98.67,338.96 99.00,337.97 C99.33,336.98 99.67,335.69 100.00,334.51 C100.33,333.34 100.67,331.88 101.00,330.93 C101.33,329.98 101.67,329.12 102.00,328.80 C102.33,328.47 102.67,328.75 103.00,329.00 C103.33,329.24 103.67,329.74 104.00,330.27 C104.33,330.79 104.67,331.47 105.00,332.15 C105.33,332.83 105.67,333.60 106.00,334.34 C106.33,335.08 106.67,335.86 107.00,336.62 C107.33,337.37 107.67,338.14 108.00,338.86 C108.33,339.58 108.67,340.31 109.00,340.96 C109.33,341.61 109.67,342.24 110.00,342.74 C110.33,343.24 110.67,343.68 111.00,343.97 C111.33,344.27 111.67,344.44 112.00,344.49 C112.33,344.55 112.67,344.46 113.00,344.30 C113.33,344.14 113.67,343.95 114.00,343.53 C114.33,343.11 114.67,342.22 115.00,341.77 C115.33,341.32 115.67,340.95 116.00,340.82 C116.33,340.70 116.67,340.80 117.00,341.01 C117.33,341.22 117.67,341.69 118.00,342.09 C118.33,342.49 118.67,343.04 119.00,343.40 C119.33,343.76 119.67,344.11 120.00,344.23 C120.33,344.36 120.67,344.32 121.00,344.14 C121.33,343.96 121.67,343.56 122.00,343.16 C122.33,342.76 122.67,342.19 123.00,341.75 C123.33,341.32 123.67,340.84 124.00,340.56 C124.33,340.28 124.67,340.10 125.00,340.09 C125.33,340.07 125.67,340.25 126.00,340.47 C126.33,340.69 126.67,341.10 127.00,341.42 C127.33,341.74 127.83,342.24 128.00,342.40" fill="none" stroke="#a39a2a" stroke-width="1.4" stroke-linejoin="round" stroke-linecap="round" />
<path d="M76.00,341.99 C76.17,342.00 76.67,342.08 77.00,342.05 C77.33,342.03 77.67,341.94 78.00,341.86 C78.33,341.78 78.67,341.64 79.00,341.55 C79.33,341.47 79.67,341.37 80.00,341.35 C80.33,341.33 80.67,341.36 81.00,341.44 C81.33,341.52 81.67,341.67 82.00,341.83 C82.33,341.98 82.67,342.21 83.00,342.37 C83.33,342.54 83.67,342.73 84.00,342.84 C84.33,342.94 84.67,343.00 85.00,343.00 C85.33,342.99 85.67,342.90 86.00,342.79 C86.33,342.67 86.67,342.48 87.00,342.31 C87.33,342.15 87.67,341.94 88.00,341.80 C88.33,341.67 88.67,341.54 89.00,341.49 C89.33,341.43 89.67,341.44 90.00,341.48 C90.33,341.51 90.67,341.63 91.00,341.71 C91.33,341.80 91.67,341.93 92.00,342.00 C92.33,342.07 92.67,342.13 93.00,342.12 C93.33,342.12 93.67,342.06 94.00,341.96 C94.33,341.87 94.67,341.71 95.00,341.57 C95.33,341.43 95.67,341.25 96.00,341.14 C96.33,341.02 96.67,340.92 97.00,340.90 C97.33,340.88 97.67,340.92 98.00,341.01 C98.33,341.10 98.67,341.27 99.00,341.44 C99.33,341.62 99.67,341.85 100.00,342.03 C100.33,342.20 100.67,342.40 101.00,342.50 C101.33,342.59 101.67,342.66 102.00,342.61 C102.33,342.57 102.67,342.46 103.00,342.24 C103.33,342.02 103.67,341.72 104.00,341.31 C104.33,340.90 104.67,340.39 105.00,339.80 C105.33,339.20 105.67,338.47 106.00,337.73 C106.33,336.99 106.67,336.11 107.00,335.37 C107.33,334.63 107.67,333.81 108.00,333.29 C108.33,332.77 108.67,332.38 109.00,332.24 C109.33,332.09 109.67,332.27 110.00,332.41 C110.33,332.55 110.67,332.79 111.00,333.07 C111.33,333.35 111.67,333.70 112.00,334.10 C112.33,334.49 112.67,334.94 113.00,335.43 C113.33,335.92 113.67,336.47 114.00,337.03 C114.33,337.60 114.67,338.23 115.00,338.83 C115.33,339.43 115.67,340.07 116.00,340.64 C116.33,341.20 116.67,341.77 117.00,342.22 C117.33,342.67 117.67,343.06 118.00,343.33 C118.33,343.60 118.67,343.75 119.00,343.82 C119.33,343.89 119.67,343.82 120.00,343.74 C120.33,343.65 120.67,343.48 121.00,343.31 C121.33,343.13 121.67,342.93 122.00,342.67 C122.33,342.40 122.67,341.90 123.00,341.70 C123.33,341.51 123.67,341.44 124.00,341.49 C124.33,341.55 124.67,341.78 125.00,342.01 C125.33,342.25 125.67,342.62 126.00,342.88 C126.33,343.13 126.67,343.42 127.00,343.55 C127.33,343.68 127.67,343.72 128.00,343.63 C128.33,343.55 128.67,343.32 129.00,343.06 C129.33,342.80 129.67,342.40 130.00,342.08 C130.33,341.76 130.67,341.38 131.00,341.14 C131.33,340.90 131.67,340.70 132.00,340.63 C132.33,340.56 132.67,340.60 133.00,340.70 C133.33,340.80 133.67,341.03 134.00,341.22 C134.33,341.42 134.67,341.68 135.00,341.86 C135.33,342.03 135.67,342.19 136.00,342.26 C136.33,342.32 136.67,342.31 137.00,342.24 C137.33,342.18 137.67,342.02 138.00,341.88 C138.33,341.74 138.67,341.53 139.00,341.41 C139.33,341.28 139.67,341.16 140.00,341.13 C140.33,341.10 140.83,341.21 141.00,341.22" fill="none" stroke="#44de1e" stroke-width="1.4" stroke-linejoin="round" stroke-linecap="round" />
<path d="M106.00,342.11 C106.17,342.04 106.67,341.85 107.00,341.70 C107.33,341.55 107.67,341.35 108.00,341.21 C108.33,341.07 108.67,340.93 109.00,340.87 C109.33,340.82 109.67,340.81 110.00,340.87 C110.33,340.93 110.67,341.07 111.00,341.22 C111.33,341.38 111.67,341.60 112.00,341.78 C112.33,341.96 112.67,342.17 113.00,342.30 C113.33,342.42 113.67,342.52 114.00,342.55 C114.33,342.59 114.67,342.55 115.00,342.49 C115.33,342.42 115.67,342.29 116.00,342.19 C116.33,342.08 116.67,341.95 117.00,341.87 C117.33,341.78 117.67,341.72 118.00,341.69 C118.33,341.65 118.67,341.69 119.00,341.66 C119.33,341.62 119.67,341.65 120.00,341.50 C120.33,341.35 120.67,341.17 121.00,340.77 C121.33,340.36 121.67,339.78 122.00,339.06 C122.33,338.33 122.67,337.33 123.00,336.40 C123.33,335.48 123.67,334.32 124.00,333.50 C124.33,332.69 124.67,331.88 125.00,331.49 C125.33,331.09 125.67,331.04 126.00,331.15 C126.33,331.27 126.67,331.67 127.00,332.19 C127.33,332.71 127.67,333.50 128.00,334.27 C128.33,335.04 128.67,335.98 129.00,336.80 C129.33,337.63 129.67,338.49 130.00,339.20 C130.33,339.91 130.67,340.54 131.00,341.04 C131.33,341.54 131.67,341.90 132.00,342.19 C132.33,342.47 132.67,342.62 133.00,342.76 C133.33,342.89 133.67,342.93 134.00,342.99 C134.33,343.05 134.67,343.07 135.00,343.12 C135.33,343.17 135.67,343.30 136.00,343.28 C136.33,343.25 136.67,343.10 137.00,342.98 C137.33,342.85 137.67,342.62 138.00,342.52 C138.33,342.41 138.67,342.36 139.00,342.34 C139.33,342.32 139.67,342.36 140.00,342.38 C140.33,342.41 140.67,342.47 141.00,342.49 C141.33,342.52 141.67,342.54 142.00,342.53 C142.33,342.52 142.67,342.49 143.00,342.43 C143.33,342.38 143.67,342.29 144.00,342.20 C144.33,342.11 144.67,342.00 145.00,341.90 C145.33,341.80 145.67,341.68 146.00,341.59 C146.33,341.49 146.67,341.40 147.00,341.33 C147.33,341.26 147.67,341.20 148.00,341.17 C148.33,341.14 148.67,341.12 149.00,341.13 C149.33,341.14 149.67,341.17 150.00,341.23 C150.33,341.28 150.67,341.36 151.00,341.44 C151.33,341.53 151.67,341.64 152.00,341.74 C152.33,341.84 152.83,341.98 153.00,342.03" fill="none" stroke="#72f0f2" stroke-width="1.4" stroke-linejoin="round" stroke-linecap="round" />
<path d="M136.30,341.70 C136.85,341.35 138.57,339.63 139.60,339.60 C140.63,339.57 141.60,340.97 142.50,341.50 C143.40,342.03 144.08,343.22 145.00,342.80 C145.92,342.38 147.08,340.47 148.00,339.00 C148.92,337.53 149.67,335.33 150.50,334.00 C151.33,332.67 152.20,331.33 153.00,331.00 C153.80,330.67 154.55,331.33 155.30,332.00 C156.05,332.67 156.72,333.75 157.50,335.00 C158.28,336.25 159.17,338.38 160.00,339.50 C160.83,340.62 161.67,341.08 162.50,341.70 C163.33,342.32 164.08,342.82 165.00,343.20 C165.92,343.58 167.00,343.95 168.00,344.00 C169.00,344.05 169.72,343.88 171.00,343.50 C172.28,343.12 174.37,341.90 175.70,341.70 C177.03,341.50 177.72,342.12 179.00,342.30 C180.28,342.48 182.67,342.72 183.40,342.80" fill="none" stroke="#3140ea" stroke-width="1.4" stroke-linejoin="round" stroke-linecap="round" />
<path d="M198.70,340.70 C199.25,340.83 200.73,341.25 202.00,341.50 C203.27,341.75 204.97,342.12 206.30,342.20 C207.63,342.28 208.72,342.20 210.00,342.00 C211.28,341.80 212.78,341.40 214.00,341.00 C215.22,340.60 216.30,340.35 217.30,339.60 C218.30,338.85 219.13,337.60 220.00,336.50 C220.87,335.40 221.67,333.82 222.50,333.00 C223.33,332.18 224.17,331.27 225.00,331.60 C225.83,331.93 226.60,333.23 227.50,335.00 C228.40,336.77 229.48,340.82 230.40,342.20 C231.32,343.58 232.07,343.12 233.00,343.30 C233.93,343.48 234.60,343.38 236.00,343.30 C237.40,343.22 239.90,343.27 241.40,342.80 C242.90,342.33 243.90,341.12 245.00,340.50 C246.10,339.88 247.00,339.18 248.00,339.10 C249.00,339.02 250.00,339.68 251.00,340.00 C252.00,340.32 253.50,340.83 254.00,341.00" fill="none" stroke="#8b2ee8" stroke-width="1.4" stroke-linejoin="round" stroke-linecap="round" />
<path d="M60.10,348.70 C60.42,347.92 61.27,345.58 62.00,344.00 C62.73,342.42 63.67,339.62 64.50,339.20 C65.33,338.78 66.15,340.65 67.00,341.50 C67.85,342.35 68.85,344.13 69.60,344.30 C70.35,344.47 70.90,342.98 71.50,342.50 C72.10,342.02 72.62,341.45 73.20,341.40 C73.78,341.35 74.38,342.13 75.00,342.20 C75.62,342.27 76.32,341.97 76.90,341.80 C77.48,341.63 78.02,341.50 78.50,341.20 C78.98,340.90 79.33,341.87 79.80,340.00 C80.27,338.13 80.80,335.00 81.30,330.00 C81.80,325.00 82.22,317.67 82.80,310.00 C83.38,302.33 84.17,290.20 84.80,284.00 C85.43,277.80 86.03,272.97 86.60,272.80 C87.17,272.63 87.63,278.97 88.20,283.00 C88.77,287.03 89.35,292.00 90.00,297.00 C90.65,302.00 91.52,308.17 92.10,313.00 C92.68,317.83 93.02,321.83 93.50,326.00 C93.98,330.17 94.50,334.67 95.00,338.00 C95.50,341.33 96.07,344.25 96.50,346.00 C96.93,347.75 97.10,348.33 97.60,348.50 C98.10,348.67 98.82,347.48 99.50,347.00 C100.18,346.52 101.03,345.52 101.70,345.60 C102.37,345.68 102.88,346.98 103.50,347.50 C104.12,348.02 104.78,348.70 105.40,348.70 C106.02,348.70 106.60,347.72 107.20,347.50 C107.80,347.28 108.45,347.15 109.00,347.40 C109.55,347.65 110.00,348.57 110.50,349.00 C111.00,349.43 111.42,350.67 112.00,350.00 C112.58,349.33 113.28,346.43 114.00,345.00 C114.72,343.57 115.63,341.98 116.30,341.40 C116.97,340.82 117.38,341.27 118.00,341.50 C118.62,341.73 119.25,342.05 120.00,342.80 C120.75,343.55 121.67,344.95 122.50,346.00 C123.33,347.05 124.58,348.58 125.00,349.10" fill="none" stroke="#151515" stroke-width="1.4" stroke-linejoin="round" stroke-linecap="round" />
<path d="M87.10,272.50 L87.60,277.93 L88.10,282.86 L88.60,287.33 L89.10,291.39 L89.60,295.08 L90.10,298.43 L90.60,301.48 L91.10,304.24 L91.60,306.74 L92.10,309.02 L92.60,311.09 L93.10,312.97 L93.60,314.67 L94.10,316.22 L94.60,317.62 L95.10,318.90 L95.60,320.06 L96.10,321.11 L96.60,322.06 L97.10,322.93 L97.60,323.72 L98.10,324.43 L98.60,325.08 L99.10,325.67 L99.60,326.21 L100.10,326.69 L100.60,327.14 L101.10,327.54 L101.60,327.90 L102.10,328.23 L102.60,328.53 L103.10,328.80 L103.60,329.05 L104.10,329.27 L104.60,329.48 L105.10,329.66 L105.60,329.83 L106.10,329.98 L106.60,330.12 L107.10,330.25 L107.60,330.36 L108.10,330.47 L108.60,330.56 L109.10,330.65 L109.60,330.72 L110.10,330.79 L110.60,330.86 L111.10,330.92 L111.60,330.97 L112.10,331.02 L112.60,331.06 L113.10,331.10 L113.60,331.14 L114.10,331.17 L114.60,331.20 L115.10,331.23 L115.60,331.25 L116.10,331.27 L116.60,331.29 L117.10,331.31 L117.60,331.33 L118.10,331.34 L118.60,331.36 L119.10,331.37 L119.60,331.38 L120.10,331.39 L120.60,331.40 L121.10,331.41 L121.60,331.41 L122.10,331.42 L122.60,331.43 L123.10,331.43 L123.60,331.44 L124.10,331.44 L124.60,331.45 L125.10,331.45 L125.60,331.46 L126.10,331.46 L126.60,331.46 L127.10,331.46 L127.60,331.47 L128.10,331.47 L128.60,331.47 L129.10,331.47 L129.60,331.47 L130.10,331.48 L130.60,331.48 L131.10,331.48 L131.60,331.48 L132.10,331.48 L132.60,331.48 L133.10,331.48 L133.60,331.48 L134.10,331.48 L134.60,331.48 L135.10,331.48 L135.60,331.48 L136.10,331.49 L136.60,331.49 L137.10,331.49 L137.60,331.49 L138.10,331.49 L138.60,331.49 L139.10,331.49 L139.60,331.49 L140.10,331.49 L140.60,331.49 L141.10,331.49 L141.60,331.49 L142.10,331.49 L142.60,331.49 L143.10,331.49 L143.60,331.49 L144.10,331.49 L144.60,331.49 L145.10,331.49 L145.60,331.49 L146.10,331.49 L146.60,331.49 L147.10,331.49 L147.60,331.49 L148.10,331.49 L148.60,331.49 L149.10,331.49 L149.60,331.49 L150.10,331.49 L150.60,331.49 L151.10,331.49 L151.60,331.49 L152.10,331.49 L152.60,331.49 L153.10,331.49 L153.60,331.49 L154.10,331.49 L154.60,331.49 L155.10,331.49 L155.60,331.49 L156.10,331.49 L156.60,331.49 L157.10,331.49 L157.60,331.49 L158.10,331.49 L158.60,331.49 L159.10,331.49 L159.60,331.49 L160.10,331.49 L160.60,331.49 L161.10,331.49 L161.60,331.49 L162.10,331.49 L162.60,331.49 L163.10,331.49 L163.60,331.49 L164.10,331.49 L164.60,331.49 L165.10,331.49 L165.60,331.49 L166.10,331.49 L166.60,331.49 L167.10,331.49 L167.60,331.49 L168.10,331.49 L168.60,331.49 L169.10,331.49 L169.60,331.49 L170.10,331.49 L170.60,331.49 L171.10,331.49 L171.60,331.49 L172.10,331.49 L172.60,331.49 L173.10,331.49 L173.60,331.49 L174.10,331.49 L174.60,331.49 L175.10,331.49 L175.60,331.49 L176.10,331.49 L176.60,331.49 L177.10,331.49 L177.60,331.49 L178.10,331.49 L178.60,331.49 L179.10,331.49 L179.60,331.49 L180.10,331.49 L180.60,331.49 L181.10,331.49 L181.60,331.49 L182.10,331.49 L182.60,331.49 L183.10,331.49 L183.60,331.49 L184.10,331.49 L184.60,331.49 L185.10,331.49 L185.60,331.49 L186.10,331.49 L186.60,331.49 L187.10,331.49 L187.60,331.49 L188.10,331.49 L188.60,331.49 L189.10,331.49 L189.60,331.49 L190.10,331.49 L190.60,331.49 L191.10,331.49 L191.60,331.49 L192.10,331.49 L192.60,331.49 L193.10,331.49 L193.60,331.49 L194.10,331.49 L194.60,331.49 L195.10,331.49 L195.60,331.49 L196.10,331.49 L196.60,331.49 L197.10,331.49 L197.60,331.49 L198.10,331.49 L198.60,331.49 L199.10,331.49 L199.60,331.49 L200.10,331.49 L200.60,331.49 L201.10,331.49 L201.60,331.49 L202.10,331.49 L202.60,331.49 L203.10,331.49 L203.60,331.49 L204.10,331.49 L204.60,331.49 L205.10,331.49 L205.60,331.49 L206.10,331.49 L206.60,331.49 L207.10,331.49 L207.60,331.49 L208.10,331.49 L208.60,331.49 L209.10,331.49 L209.60,331.49 L210.10,331.49 L210.60,331.49 L211.10,331.49 L211.60,331.49 L212.10,331.49 L212.60,331.49 L213.10,331.49 L213.60,331.49 L214.10,331.49 L214.60,331.49 L215.10,331.49 L215.60,331.49 L216.10,331.49 L216.60,331.49 L217.10,331.49 L217.60,331.49 L218.10,331.49 L218.60,331.49 L219.10,331.49 L219.60,331.49 L220.10,331.49 L220.60,331.49 L221.10,331.49 L221.60,331.49 L222.10,331.49 L222.60,331.49 L223.10,331.49 L223.60,331.49 L224.10,331.49 L224.60,331.49" fill="none" stroke="#ef2222" stroke-width="1.6" stroke-linejoin="round" />
<circle cx="86.90" cy="272.80" r="2.8" fill="none" stroke="#3a3a3a" stroke-width="0.8"/>
<circle cx="96.60" cy="322.40" r="2.8" fill="none" stroke="#3a3a3a" stroke-width="0.8"/>
<circle cx="98.20" cy="325.80" r="2.8" fill="none" stroke="#3a3a3a" stroke-width="0.8"/>
<circle cx="102.40" cy="328.30" r="2.8" fill="none" stroke="#3a3a3a" stroke-width="0.8"/>
<circle cx="109.30" cy="331.50" r="2.8" fill="none" stroke="#3a3a3a" stroke-width="0.8"/>
<circle cx="125.40" cy="331.80" r="2.8" fill="none" stroke="#3a3a3a" stroke-width="0.8"/>
<circle cx="155.30" cy="331.80" r="2.8" fill="none" stroke="#3a3a3a" stroke-width="0.8"/>
<circle cx="225.00" cy="331.80" r="2.8" fill="none" stroke="#3a3a3a" stroke-width="0.8"/>
<path d="M62.00,454.08 C62.17,453.82 62.67,452.96 63.00,452.51 C63.33,452.07 63.67,451.62 64.00,451.38 C64.33,451.15 64.67,451.06 65.00,451.11 C65.33,451.16 65.67,451.42 66.00,451.66 C66.33,451.90 66.67,452.31 67.00,452.57 C67.33,452.84 67.67,453.13 68.00,453.23 C68.33,453.34 68.67,453.33 69.00,453.20 C69.33,453.07 69.67,452.76 70.00,452.46 C70.33,452.17 70.67,451.73 71.00,451.45 C71.33,451.17 71.67,450.86 72.00,450.78 C72.33,450.69 72.67,450.73 73.00,450.94 C73.33,451.15 73.67,451.57 74.00,452.01 C74.33,452.46 74.67,453.10 75.00,453.60 C75.33,454.10 75.67,454.68 76.00,455.03 C76.33,455.38 76.67,455.65 77.00,455.71 C77.33,455.77 77.67,455.62 78.00,455.40 C78.33,455.17 78.67,454.73 79.00,454.36 C79.33,453.99 79.67,453.50 80.00,453.19 C80.33,452.87 80.67,452.59 81.00,452.49 C81.33,452.39 81.67,452.44 82.00,452.57 C82.33,452.69 82.67,453.01 83.00,453.25 C83.33,453.50 83.67,453.85 84.00,454.02 C84.33,454.20 84.67,454.34 85.00,454.29 C85.33,454.23 85.67,454.02 86.00,453.71 C86.33,453.41 86.67,452.89 87.00,452.45 C87.33,452.00 87.67,451.41 88.00,451.02 C88.33,450.63 88.67,450.26 89.00,450.11 C89.33,449.95 89.67,449.98 90.00,450.12 C90.33,450.25 90.67,450.66 91.00,450.92 C91.33,451.19 91.67,451.70 92.00,451.69 C92.33,451.69 92.67,451.69 93.00,450.91 C93.33,450.12 93.67,448.84 94.00,446.96 C94.33,445.08 94.67,442.19 95.00,439.61 C95.33,437.04 95.67,433.56 96.00,431.49 C96.33,429.41 96.67,427.53 97.00,427.17 C97.33,426.80 97.67,427.77 98.00,429.31 C98.33,430.86 98.67,433.79 99.00,436.41 C99.33,439.03 99.67,442.43 100.00,445.04 C100.33,447.64 100.67,450.22 101.00,452.04 C101.33,453.86 101.67,455.18 102.00,455.98 C102.33,456.78 102.67,456.94 103.00,456.86 C103.33,456.79 103.67,456.22 104.00,455.53 C104.33,454.85 104.67,453.70 105.00,452.77 C105.33,451.84 105.67,450.56 106.00,449.95 C106.33,449.34 106.67,449.06 107.00,449.11 C107.33,449.15 107.67,449.68 108.00,450.23 C108.33,450.77 108.67,451.69 109.00,452.36 C109.33,453.03 109.67,453.82 110.00,454.24 C110.33,454.66 110.67,454.91 111.00,454.88 C111.33,454.86 111.67,454.50 112.00,454.08 C112.33,453.67 112.67,452.93 113.00,452.40 C113.33,451.86 113.67,451.19 114.00,450.85 C114.33,450.52 114.67,450.30 115.00,450.38 C115.33,450.46 115.67,450.84 116.00,451.34 C116.33,451.83 116.67,452.64 117.00,453.33 C117.33,454.01 117.67,454.88 118.00,455.44 C118.33,456.00 118.67,456.51 119.00,456.69 C119.33,456.88 119.67,456.81 120.00,456.56 C120.33,456.30 120.67,455.72 121.00,455.17 C121.33,454.63 121.67,453.84 122.00,453.27 C122.33,452.70 122.67,452.08 123.00,451.74 C123.33,451.40 123.67,451.22 124.00,451.23 C124.33,451.23 124.67,451.49 125.00,451.76 C125.33,452.03 125.83,452.66 126.00,452.84" fill="none" stroke="#ee1c1c" stroke-width="1.5" stroke-linejoin="round" stroke-linecap="round" />
<path d="M66.00,452.64 C66.17,452.52 66.67,452.06 67.00,451.91 C67.33,451.76 67.67,451.67 68.00,451.76 C68.33,451.85 68.67,452.11 69.00,452.45 C69.33,452.78 69.67,453.32 70.00,453.78 C70.33,454.23 70.67,454.80 71.00,455.16 C71.33,455.52 71.67,455.85 72.00,455.95 C72.33,456.05 72.67,455.96 73.00,455.75 C73.33,455.53 73.67,455.08 74.00,454.65 C74.33,454.22 74.67,453.61 75.00,453.16 C75.33,452.71 75.67,452.23 76.00,451.96 C76.33,451.68 76.67,451.53 77.00,451.53 C77.33,451.52 77.67,451.72 78.00,451.92 C78.33,452.12 78.67,452.50 79.00,452.74 C79.33,452.98 79.67,453.28 80.00,453.38 C80.33,453.48 80.67,453.49 81.00,453.36 C81.33,453.23 81.67,452.91 82.00,452.59 C82.33,452.28 82.67,451.79 83.00,451.45 C83.33,451.11 83.67,450.72 84.00,450.56 C84.33,450.40 84.67,450.34 85.00,450.47 C85.33,450.60 85.67,450.95 86.00,451.35 C86.33,451.75 86.67,452.36 87.00,452.88 C87.33,453.39 87.67,454.01 88.00,454.42 C88.33,454.82 88.67,455.18 89.00,455.32 C89.33,455.46 89.67,455.43 90.00,455.27 C90.33,455.11 90.67,454.75 91.00,454.38 C91.33,454.01 91.67,453.53 92.00,453.05 C92.33,452.56 92.67,452.11 93.00,451.48 C93.33,450.84 93.67,450.25 94.00,449.26 C94.33,448.26 94.67,447.06 95.00,445.48 C95.33,443.90 95.67,441.77 96.00,439.77 C96.33,437.77 96.67,435.21 97.00,433.49 C97.33,431.77 97.67,430.23 98.00,429.47 C98.33,428.71 98.67,428.78 99.00,428.90 C99.33,429.03 99.67,429.48 100.00,430.22 C100.33,430.96 100.67,432.08 101.00,433.36 C101.33,434.64 101.67,436.29 102.00,437.93 C102.33,439.57 102.67,441.47 103.00,443.20 C103.33,444.92 103.67,446.76 104.00,448.28 C104.33,449.81 104.67,451.25 105.00,452.34 C105.33,453.43 105.67,454.27 106.00,454.82 C106.33,455.38 106.67,455.58 107.00,455.66 C107.33,455.74 107.67,455.48 108.00,455.28 C108.33,455.08 108.67,454.74 109.00,454.45 C109.33,454.15 109.67,453.82 110.00,453.51 C110.33,453.20 110.67,452.68 111.00,452.60 C111.33,452.52 111.67,452.74 112.00,453.04 C112.33,453.34 112.67,453.95 113.00,454.42 C113.33,454.88 113.67,455.49 114.00,455.81 C114.33,456.14 114.67,456.38 115.00,456.35 C115.33,456.33 115.67,456.04 116.00,455.64 C116.33,455.24 116.67,454.55 117.00,453.95 C117.33,453.34 117.67,452.56 118.00,452.02 C118.33,451.47 118.67,450.95 119.00,450.68 C119.33,450.41 119.67,450.33 120.00,450.39 C120.33,450.46 120.67,450.78 121.00,451.08 C121.33,451.38 121.67,451.86 122.00,452.19 C122.33,452.52 122.67,452.88 123.00,453.05 C123.33,453.22 123.67,453.28 124.00,453.23 C124.33,453.17 124.67,452.93 125.00,452.72 C125.33,452.52 125.83,452.10 126.00,451.98" fill="none" stroke="#e9a73a" stroke-width="1.5" stroke-linejoin="round" stroke-linecap="round" />
<path d="M70.00,453.00 C70.17,453.22 70.67,453.89 71.00,454.30 C71.33,454.72 71.67,455.21 72.00,455.48 C72.33,455.75 72.67,455.94 73.00,455.92 C73.33,455.90 73.67,455.67 74.00,455.35 C74.33,455.03 74.67,454.48 75.00,454.00 C75.33,453.51 75.67,452.89 76.00,452.45 C76.33,452.01 76.67,451.58 77.00,451.37 C77.33,451.15 77.67,451.09 78.00,451.15 C78.33,451.22 78.67,451.49 79.00,451.74 C79.33,451.99 79.67,452.40 80.00,452.65 C80.33,452.91 80.67,453.18 81.00,453.27 C81.33,453.35 81.67,453.32 82.00,453.17 C82.33,453.02 82.67,452.69 83.00,452.39 C83.33,452.09 83.67,451.64 84.00,451.37 C84.33,451.09 84.67,450.80 85.00,450.73 C85.33,450.66 85.67,450.73 86.00,450.96 C86.33,451.18 86.67,451.63 87.00,452.08 C87.33,452.53 87.67,453.18 88.00,453.68 C88.33,454.18 88.67,454.75 89.00,455.08 C89.33,455.42 89.67,455.66 90.00,455.70 C90.33,455.74 90.67,455.57 91.00,455.33 C91.33,455.10 91.67,454.64 92.00,454.28 C92.33,453.91 92.67,453.43 93.00,453.13 C93.33,452.83 93.67,452.57 94.00,452.49 C94.33,452.40 94.67,452.48 95.00,452.62 C95.33,452.75 95.67,453.09 96.00,453.31 C96.33,453.53 96.67,453.88 97.00,453.94 C97.33,454.00 97.67,454.06 98.00,453.67 C98.33,453.28 98.67,452.72 99.00,451.60 C99.33,450.49 99.67,448.96 100.00,446.99 C100.33,445.01 100.67,442.35 101.00,439.75 C101.33,437.16 101.67,433.83 102.00,431.42 C102.33,429.01 102.67,426.42 103.00,425.27 C103.33,424.13 103.67,424.17 104.00,424.54 C104.33,424.91 104.67,426.25 105.00,427.50 C105.33,428.75 105.67,430.45 106.00,432.02 C106.33,433.60 106.67,435.38 107.00,436.94 C107.33,438.50 107.67,440.03 108.00,441.39 C108.33,442.74 108.67,443.94 109.00,445.07 C109.33,446.20 109.67,447.19 110.00,448.18 C110.33,449.18 110.67,450.11 111.00,451.04 C111.33,451.98 111.67,452.93 112.00,453.78 C112.33,454.64 112.67,455.51 113.00,456.16 C113.33,456.80 113.67,457.38 114.00,457.67 C114.33,457.96 114.67,458.05 115.00,457.91 C115.33,457.77 115.67,457.50 116.00,456.83 C116.33,456.16 116.67,454.88 117.00,453.90 C117.33,452.93 117.67,451.69 118.00,450.97 C118.33,450.25 118.67,449.74 119.00,449.60 C119.33,449.45 119.67,449.72 120.00,450.11 C120.33,450.50 120.67,451.30 121.00,451.94 C121.33,452.58 121.67,453.44 122.00,453.95 C122.33,454.46 122.67,454.90 123.00,455.01 C123.33,455.11 123.67,454.91 124.00,454.56 C124.33,454.21 124.67,453.51 125.00,452.91 C125.33,452.30 125.67,451.47 126.00,450.96 C126.33,450.45 126.67,449.96 127.00,449.84 C127.33,449.71 127.67,449.85 128.00,450.22 C128.33,450.59 128.67,451.33 129.00,452.05 C129.33,452.77 129.67,453.79 130.00,454.54 C130.33,455.28 130.67,456.10 131.00,456.55 C131.33,456.99 131.83,457.09 132.00,457.20" fill="none" stroke="#a39a2a" stroke-width="1.5" stroke-linejoin="round" stroke-linecap="round" />
<path d="M76.00,453.01 C76.17,453.10 76.67,453.50 77.00,453.55 C77.33,453.60 77.67,453.48 78.00,453.31 C78.33,453.15 78.67,452.80 79.00,452.55 C79.33,452.31 79.67,451.98 80.00,451.84 C80.33,451.71 80.67,451.64 81.00,451.75 C81.33,451.86 81.67,452.15 82.00,452.50 C82.33,452.85 82.67,453.40 83.00,453.86 C83.33,454.31 83.67,454.88 84.00,455.23 C84.33,455.58 84.67,455.89 85.00,455.97 C85.33,456.05 85.67,455.94 86.00,455.71 C86.33,455.47 86.67,455.01 87.00,454.57 C87.33,454.13 87.67,453.52 88.00,453.08 C88.33,452.64 88.67,452.18 89.00,451.93 C89.33,451.67 89.67,451.55 90.00,451.56 C90.33,451.57 90.67,451.79 91.00,452.00 C91.33,452.21 91.67,452.58 92.00,452.82 C92.33,453.06 92.67,453.34 93.00,453.42 C93.33,453.51 93.67,453.49 94.00,453.34 C94.33,453.19 94.67,452.85 95.00,452.52 C95.33,452.19 95.67,451.70 96.00,451.37 C96.33,451.03 96.67,450.66 97.00,450.51 C97.33,450.36 97.67,450.33 98.00,450.48 C98.33,450.63 98.67,450.99 99.00,451.41 C99.33,451.82 99.67,452.45 100.00,452.96 C100.33,453.47 100.67,454.08 101.00,454.47 C101.33,454.85 101.67,455.19 102.00,455.27 C102.33,455.35 102.67,455.29 103.00,454.93 C103.33,454.57 103.67,454.08 104.00,453.12 C104.33,452.16 104.67,451.02 105.00,449.16 C105.33,447.31 105.67,444.94 106.00,441.99 C106.33,439.05 106.67,435.05 107.00,431.50 C107.33,427.94 107.67,423.40 108.00,420.66 C108.33,417.93 108.67,415.74 109.00,415.09 C109.33,414.43 109.67,415.64 110.00,416.72 C110.33,417.80 110.67,419.66 111.00,421.55 C111.33,423.45 111.67,425.85 112.00,428.07 C112.33,430.30 112.67,432.71 113.00,434.90 C113.33,437.09 113.67,439.23 114.00,441.20 C114.33,443.16 114.67,445.01 115.00,446.69 C115.33,448.37 115.67,449.94 116.00,451.29 C116.33,452.63 116.67,453.85 117.00,454.78 C117.33,455.70 117.67,456.41 118.00,456.83 C118.33,457.24 118.67,457.45 119.00,457.27 C119.33,457.08 119.67,456.52 120.00,455.70 C120.33,454.89 120.67,453.26 121.00,452.38 C121.33,451.50 121.67,450.71 122.00,450.43 C122.33,450.15 122.67,450.28 123.00,450.68 C123.33,451.08 123.67,452.00 124.00,452.84 C124.33,453.68 124.67,454.90 125.00,455.74 C125.33,456.57 125.67,457.47 126.00,457.87 C126.33,458.28 126.67,458.41 127.00,458.18 C127.33,457.94 127.67,457.24 128.00,456.46 C128.33,455.69 128.67,454.48 129.00,453.51 C129.33,452.54 129.67,451.38 130.00,450.65 C130.33,449.92 130.67,449.32 131.00,449.12 C131.33,448.92 131.67,449.10 132.00,449.46 C132.33,449.83 132.67,450.62 133.00,451.30 C133.33,451.99 133.67,452.95 134.00,453.56 C134.33,454.18 134.67,454.79 135.00,455.01 C135.33,455.24 135.67,455.19 136.00,454.91 C136.33,454.62 136.67,453.95 137.00,453.33 C137.33,452.70 137.67,451.78 138.00,451.15 C138.33,450.52 138.67,449.83 139.00,449.55 C139.33,449.26 139.67,449.19 140.00,449.43 C140.33,449.66 140.83,450.70 141.00,450.96" fill="none" stroke="#44de1e" stroke-width="1.5" stroke-linejoin="round" stroke-linecap="round" />
<path d="M96.00,451.64 C96.17,451.65 96.67,451.59 97.00,451.73 C97.33,451.86 97.67,452.19 98.00,452.44 C98.33,452.69 98.67,453.04 99.00,453.22 C99.33,453.39 99.67,453.53 100.00,453.49 C100.33,453.45 100.67,453.25 101.00,452.98 C101.33,452.72 101.67,452.27 102.00,451.91 C102.33,451.55 102.67,451.08 103.00,450.83 C103.33,450.57 103.67,450.35 104.00,450.36 C104.33,450.36 104.67,450.55 105.00,450.85 C105.33,451.16 105.67,451.69 106.00,452.18 C106.33,452.67 106.67,453.33 107.00,453.80 C107.33,454.27 107.67,454.76 108.00,455.03 C108.33,455.29 108.67,455.41 109.00,455.38 C109.33,455.34 109.67,455.09 110.00,454.83 C110.33,454.56 110.67,454.11 111.00,453.79 C111.33,453.47 111.67,453.10 112.00,452.91 C112.33,452.72 112.67,452.62 113.00,452.67 C113.33,452.71 113.67,452.94 114.00,453.17 C114.33,453.40 114.67,453.79 115.00,454.05 C115.33,454.30 115.67,454.61 116.00,454.70 C116.33,454.80 116.67,454.80 117.00,454.61 C117.33,454.43 117.67,454.08 118.00,453.60 C118.33,453.12 118.67,452.56 119.00,451.75 C119.33,450.95 119.67,450.24 120.00,448.77 C120.33,447.30 120.67,445.78 121.00,442.96 C121.33,440.14 121.67,436.27 122.00,431.83 C122.33,427.39 122.67,420.89 123.00,416.32 C123.33,411.75 123.67,406.38 124.00,404.39 C124.33,402.40 124.67,403.15 125.00,404.38 C125.33,405.61 125.67,408.68 126.00,411.76 C126.33,414.83 126.67,419.07 127.00,422.84 C127.33,426.61 127.67,430.80 128.00,434.35 C128.33,437.90 128.67,441.28 129.00,444.13 C129.33,446.99 129.67,449.44 130.00,451.50 C130.33,453.56 130.67,455.21 131.00,456.51 C131.33,457.80 131.67,458.70 132.00,459.27 C132.33,459.83 132.67,460.20 133.00,459.88 C133.33,459.56 133.67,458.48 134.00,457.36 C134.33,456.24 134.67,454.32 135.00,453.15 C135.33,451.99 135.67,450.92 136.00,450.36 C136.33,449.79 136.67,449.64 137.00,449.77 C137.33,449.91 137.67,450.54 138.00,451.16 C138.33,451.77 138.67,452.76 139.00,453.45 C139.33,454.14 139.67,454.93 140.00,455.30 C140.33,455.67 140.67,455.85 141.00,455.69 C141.33,455.53 141.67,454.98 142.00,454.35 C142.33,453.71 142.67,452.69 143.00,451.88 C143.33,451.08 143.67,450.08 144.00,449.49 C144.33,448.90 144.67,448.42 145.00,448.35 C145.33,448.29 145.67,448.58 146.00,449.11 C146.33,449.63 146.67,450.60 147.00,451.50 C147.33,452.40 147.67,453.63 148.00,454.52 C148.33,455.42 148.67,456.37 149.00,456.88 C149.33,457.39 149.67,457.66 150.00,457.59 C150.33,457.52 150.67,457.04 151.00,456.47 C151.33,455.89 151.67,454.93 152.00,454.17 C152.33,453.40 152.67,452.45 153.00,451.87 C153.33,451.29 153.83,450.88 154.00,450.68" fill="none" stroke="#72f0f2" stroke-width="1.5" stroke-linejoin="round" stroke-linecap="round" />
<path d="M128.60,449.40 C129.00,449.00 130.27,447.35 131.00,447.00 C131.73,446.65 132.25,446.63 133.00,447.30 C133.75,447.97 134.58,449.92 135.50,451.00 C136.42,452.08 137.58,454.47 138.50,453.80 C139.42,453.13 140.20,448.82 141.00,447.00 C141.80,445.18 142.63,442.90 143.30,442.90 C143.97,442.90 144.42,445.37 145.00,447.00 C145.58,448.63 146.27,452.03 146.80,452.70 C147.33,453.37 147.77,453.12 148.20,451.00 C148.63,448.88 148.93,445.50 149.40,440.00 C149.87,434.50 150.40,425.00 151.00,418.00 C151.60,411.00 152.42,402.43 153.00,398.00 C153.58,393.57 154.00,391.73 154.50,391.40 C155.00,391.07 155.42,392.57 156.00,396.00 C156.58,399.43 157.33,406.00 158.00,412.00 C158.67,418.00 159.33,425.67 160.00,432.00 C160.67,438.33 161.33,445.17 162.00,450.00 C162.67,454.83 163.37,458.53 164.00,461.00 C164.63,463.47 165.13,464.47 165.80,464.80 C166.47,465.13 167.30,464.13 168.00,463.00 C168.70,461.87 169.27,459.17 170.00,458.00 C170.73,456.83 171.65,455.92 172.40,456.00 C173.15,456.08 173.77,457.58 174.50,458.50 C175.23,459.42 175.88,461.75 176.80,461.50 C177.72,461.25 178.90,458.47 180.00,457.00 C181.10,455.53 182.83,453.42 183.40,452.70" fill="none" stroke="#3140ea" stroke-width="1.5" stroke-linejoin="round" stroke-linecap="round" />
<path d="M205.20,450.50 C205.58,449.58 206.77,446.45 207.50,445.00 C208.23,443.55 208.85,441.97 209.60,441.80 C210.35,441.63 211.18,442.63 212.00,444.00 C212.82,445.37 213.62,448.55 214.50,450.00 C215.38,451.45 216.47,453.03 217.30,452.70 C218.13,452.37 218.88,451.78 219.50,448.00 C220.12,444.22 220.42,437.17 221.00,430.00 C221.58,422.83 222.25,411.25 223.00,405.00 C223.75,398.75 224.75,393.67 225.50,392.50 C226.25,391.33 226.83,394.25 227.50,398.00 C228.17,401.75 228.75,408.83 229.50,415.00 C230.25,421.17 231.17,429.17 232.00,435.00 C232.83,440.83 233.75,446.33 234.50,450.00 C235.25,453.67 235.90,455.45 236.50,457.00 C237.10,458.55 237.47,459.63 238.10,459.30 C238.73,458.97 239.57,456.28 240.30,455.00 C241.03,453.72 241.85,451.68 242.50,451.60 C243.15,451.52 243.65,453.58 244.20,454.50 C244.75,455.42 245.17,457.18 245.80,457.10 C246.43,457.02 247.28,455.10 248.00,454.00 C248.72,452.90 249.43,451.03 250.10,450.50 C250.77,449.97 251.27,450.80 252.00,450.80 C252.73,450.80 254.08,450.55 254.50,450.50" fill="none" stroke="#8b2ee8" stroke-width="1.5" stroke-linejoin="round" stroke-linecap="round" />
<path d="M61.20,451.80 C62.00,452.00 64.43,452.75 66.00,453.00 C67.57,453.25 68.93,453.25 70.60,453.30 C72.27,453.35 74.32,453.43 76.00,453.30 C77.68,453.17 79.45,453.22 80.70,452.50 C81.95,451.78 82.58,450.30 83.50,449.00 C84.42,447.70 85.28,444.95 86.20,444.70 C87.12,444.45 87.97,446.20 89.00,447.50 C90.03,448.80 91.32,451.42 92.40,452.50 C93.48,453.58 94.45,453.65 95.50,454.00 C96.55,454.35 97.62,454.68 98.70,454.60 C99.78,454.52 100.95,453.93 102.00,453.50 C103.05,453.07 103.87,452.33 105.00,452.00 C106.13,451.67 107.63,451.42 108.80,451.50 C109.97,451.58 110.97,452.22 112.00,452.50 C113.03,452.78 114.50,453.08 115.00,453.20" fill="none" stroke="#151515" stroke-width="1.4" stroke-linejoin="round" stroke-linecap="round" />
<path d="M83.00,452.24 L83.50,451.07 L84.00,449.92 L84.50,448.79 L85.00,447.69 L85.50,446.60 L86.00,445.53 L86.50,444.49 L87.00,443.46 L87.50,442.45 L88.00,441.46 L88.50,440.49 L89.00,439.54 L89.50,438.60 L90.00,437.68 L90.50,436.78 L91.00,435.89 L91.50,435.02 L92.00,434.17 L92.50,433.33 L93.00,432.51 L93.50,431.70 L94.00,430.91 L94.50,430.13 L95.00,429.37 L95.50,428.62 L96.00,427.88 L96.50,427.16 L97.00,426.45 L97.50,425.75 L98.00,425.07 L98.50,424.40 L99.00,423.74 L99.50,423.10 L100.00,422.46 L100.50,421.84 L101.00,421.23 L101.50,420.63 L102.00,420.04 L102.50,419.46 L103.00,418.89 L103.50,418.33 L104.00,417.79 L104.50,417.25 L105.00,416.72 L105.50,416.21 L106.00,415.70 L106.50,415.20 L107.00,414.71 L107.50,414.23 L108.00,413.76 L108.50,413.30 L109.00,412.84 L109.50,412.39 L110.00,411.96 L110.50,411.53 L111.00,411.10 L111.50,410.69 L112.00,410.28 L112.50,409.88 L113.00,409.49 L113.50,409.11 L114.00,408.73 L114.50,408.36 L115.00,408.00 L115.50,407.64 L116.00,407.29 L116.50,406.94 L117.00,406.61 L117.50,406.28 L118.00,405.95 L118.50,405.63 L119.00,405.32 L119.50,405.01 L120.00,404.71 L120.50,404.41 L121.00,404.12 L121.50,403.83 L122.00,403.55 L122.50,403.28 L123.00,403.01 L123.50,402.74 L124.00,402.48 L124.50,402.22 L125.00,401.97 L125.50,401.73 L126.00,401.48 L126.50,401.25 L127.00,401.01 L127.50,400.79 L128.00,400.56 L128.50,400.34 L129.00,400.12 L129.50,399.91 L130.00,399.70 L130.50,399.50 L131.00,399.30 L131.50,399.10 L132.00,398.91 L132.50,398.72 L133.00,398.53 L133.50,398.35 L134.00,398.17 L134.50,397.99 L135.00,397.82 L135.50,397.65 L136.00,397.48 L136.50,397.31 L137.00,397.15 L137.50,397.00 L138.00,396.84 L138.50,396.69 L139.00,396.54 L139.50,396.39 L140.00,396.25 L140.50,396.11 L141.00,395.97 L141.50,395.83 L142.00,395.70 L142.50,395.57 L143.00,395.44 L143.50,395.31 L144.00,395.19 L144.50,395.07 L145.00,394.95 L145.50,394.83 L146.00,394.71 L146.50,394.60 L147.00,394.49 L147.50,394.38 L148.00,394.27 L148.50,394.17 L149.00,394.06 L149.50,393.96 L150.00,393.86 L150.50,393.77 L151.00,393.67 L151.50,393.58 L152.00,393.48 L152.50,393.39 L153.00,393.30 L153.50,393.22 L154.00,393.13 L154.50,393.05 L155.00,392.97 L155.50,392.88 L156.00,392.80 L156.50,392.73 L157.00,392.65 L157.50,392.57 L158.00,392.50 L158.50,392.43 L159.00,392.36 L159.50,392.29 L160.00,392.22 L160.50,392.15 L161.00,392.09 L161.50,392.02 L162.00,391.96 L162.50,391.89 L163.00,391.83 L163.50,391.77 L164.00,391.71 L164.50,391.66 L165.00,391.60 L165.50,391.54 L166.00,391.49 L166.50,391.43 L167.00,391.38 L167.50,391.33 L168.00,391.28 L168.50,391.23 L169.00,391.18 L169.50,391.13 L170.00,391.08 L170.50,391.04 L171.00,390.99 L171.50,390.95 L172.00,390.90 L172.50,390.86 L173.00,390.82 L173.50,390.77 L174.00,390.73 L174.50,390.69 L175.00,390.65 L175.50,390.62 L176.00,390.58 L176.50,390.54 L177.00,390.50 L177.50,390.47 L178.00,390.43 L178.50,390.40 L179.00,390.36 L179.50,390.33 L180.00,390.30 L180.50,390.27 L181.00,390.24 L181.50,390.20 L182.00,390.17 L182.50,390.14 L183.00,390.11 L183.50,390.09 L184.00,390.06 L184.50,390.03 L185.00,390.00 L185.50,389.98 L186.00,389.95 L186.50,389.92 L187.00,389.90 L187.50,389.87 L188.00,389.85 L188.50,389.83 L189.00,389.80 L189.50,389.78 L190.00,389.76 L190.50,389.74 L191.00,389.71 L191.50,389.69 L192.00,389.67 L192.50,389.65 L193.00,389.63 L193.50,389.61 L194.00,389.59 L194.50,389.57 L195.00,389.55 L195.50,389.54 L196.00,389.52 L196.50,389.50 L197.00,389.48 L197.50,389.46 L198.00,389.45 L198.50,389.43 L199.00,389.42 L199.50,389.40 L200.00,389.38 L200.50,389.37 L201.00,389.35 L201.50,389.34 L202.00,389.32 L202.50,389.31 L203.00,389.30 L203.50,389.28 L204.00,389.27 L204.50,389.26 L205.00,389.24 L205.50,389.23 L206.00,389.22 L206.50,389.21 L207.00,389.19 L207.50,389.18 L208.00,389.17 L208.50,389.16 L209.00,389.15 L209.50,389.14 L210.00,389.13 L210.50,389.12 L211.00,389.11 L211.50,389.10 L212.00,389.09 L212.50,389.08 L213.00,389.07 L213.50,389.06 L214.00,389.05 L214.50,389.04 L215.00,389.03 L215.50,389.02 L216.00,389.01 L216.50,389.00 L217.00,389.00 L217.50,388.99 L218.00,388.98 L218.50,388.97 L219.00,388.96 L219.50,388.96 L220.00,388.95 L220.50,388.94 L221.00,388.93 L221.50,388.93 L222.00,388.92 L222.50,388.91 L223.00,388.91 L223.50,388.90 L224.00,388.89 L224.50,388.89 L225.00,388.88" fill="none" stroke="#ef2222" stroke-width="1.6" stroke-linejoin="round" />
<circle cx="87.00" cy="443.20" r="2.8" fill="none" stroke="#3a3a3a" stroke-width="0.8"/>
<circle cx="97.10" cy="427.30" r="2.8" fill="none" stroke="#3a3a3a" stroke-width="0.8"/>
<circle cx="98.70" cy="428.40" r="2.8" fill="none" stroke="#3a3a3a" stroke-width="0.8"/>
<circle cx="103.70" cy="425.70" r="2.8" fill="none" stroke="#3a3a3a" stroke-width="0.8"/>
<circle cx="109.30" cy="413.50" r="2.8" fill="none" stroke="#3a3a3a" stroke-width="0.8"/>
<circle cx="124.70" cy="402.40" r="2.8" fill="none" stroke="#3a3a3a" stroke-width="0.8"/>
<circle cx="153.90" cy="390.90" r="2.8" fill="none" stroke="#3a3a3a" stroke-width="0.8"/>
<circle cx="225.10" cy="392.10" r="2.8" fill="none" stroke="#3a3a3a" stroke-width="0.8"/>
<line x1="320.10" y1="320.30" x2="320.10" y2="449.90" stroke="#111111" stroke-width="1.3" />
<line x1="312.60" y1="320.90" x2="320.10" y2="320.90" stroke="#111111" stroke-width="1.3" />
<text x="308.40" y="326.10" font-size="14.6" fill="#111111"  text-anchor="end" >50</text>
<line x1="312.60" y1="385.20" x2="320.10" y2="385.20" stroke="#111111" stroke-width="1.3" />
<text x="308.40" y="390.40" font-size="14.6" fill="#111111"  text-anchor="end" >25</text>
<line x1="312.60" y1="449.50" x2="320.10" y2="449.50" stroke="#111111" stroke-width="1.3" />
<text x="308.40" y="454.70" font-size="14.6" fill="#111111"  text-anchor="end" >0</text>
<line x1="323.00" y1="453.40" x2="387.80" y2="453.40" stroke="#111111" stroke-width="1.3" />
<circle cx="333.50" cy="333.70" r="2.15" fill="none" stroke="#f0a2cb" stroke-width="1.15"/>
<circle cx="333.50" cy="348.70" r="2.15" fill="none" stroke="#f0a2cb" stroke-width="1.15"/>
<circle cx="333.50" cy="352.20" r="2.15" fill="none" stroke="#f0a2cb" stroke-width="1.15"/>
<circle cx="333.50" cy="364.90" r="2.15" fill="none" stroke="#f0a2cb" stroke-width="1.15"/>
<circle cx="333.50" cy="384.70" r="2.15" fill="none" stroke="#f0a2cb" stroke-width="1.15"/>
<circle cx="333.50" cy="390.20" r="2.15" fill="none" stroke="#f0a2cb" stroke-width="1.15"/>
<circle cx="333.50" cy="395.90" r="2.15" fill="none" stroke="#f0a2cb" stroke-width="1.15"/>
<circle cx="333.50" cy="406.60" r="2.15" fill="none" stroke="#f0a2cb" stroke-width="1.15"/>
<circle cx="333.50" cy="410.00" r="2.15" fill="none" stroke="#f0a2cb" stroke-width="1.15"/>
<circle cx="355.20" cy="358.50" r="2.15" fill="none" stroke="#b4c5f7" stroke-width="1.15"/>
<circle cx="355.20" cy="385.20" r="2.15" fill="none" stroke="#b4c5f7" stroke-width="1.15"/>
<circle cx="355.20" cy="387.10" r="2.15" fill="none" stroke="#b4c5f7" stroke-width="1.15"/>
<circle cx="355.20" cy="388.70" r="2.15" fill="none" stroke="#b4c5f7" stroke-width="1.15"/>
<circle cx="355.20" cy="391.50" r="2.15" fill="none" stroke="#b4c5f7" stroke-width="1.15"/>
<circle cx="355.20" cy="394.40" r="2.15" fill="none" stroke="#b4c5f7" stroke-width="1.15"/>
<circle cx="355.20" cy="397.30" r="2.15" fill="none" stroke="#b4c5f7" stroke-width="1.15"/>
<circle cx="355.20" cy="400.00" r="2.15" fill="none" stroke="#b4c5f7" stroke-width="1.15"/>
<circle cx="355.20" cy="403.00" r="2.15" fill="none" stroke="#b4c5f7" stroke-width="1.15"/>
<circle cx="355.20" cy="405.10" r="2.15" fill="none" stroke="#b4c5f7" stroke-width="1.15"/>
<circle cx="355.20" cy="408.00" r="2.15" fill="none" stroke="#b4c5f7" stroke-width="1.15"/>
<circle cx="355.20" cy="410.00" r="2.15" fill="none" stroke="#b4c5f7" stroke-width="1.15"/>
<circle cx="355.20" cy="415.40" r="2.15" fill="none" stroke="#b4c5f7" stroke-width="1.15"/>
<circle cx="377.00" cy="356.00" r="2.15" fill="none" stroke="#b68ae9" stroke-width="1.15"/>
<circle cx="377.00" cy="361.40" r="2.15" fill="none" stroke="#b68ae9" stroke-width="1.15"/>
<circle cx="377.00" cy="382.80" r="2.15" fill="none" stroke="#b68ae9" stroke-width="1.15"/>
<circle cx="377.00" cy="384.80" r="2.15" fill="none" stroke="#b68ae9" stroke-width="1.15"/>
<circle cx="377.00" cy="387.10" r="2.15" fill="none" stroke="#b68ae9" stroke-width="1.15"/>
<line x1="333.50" y1="366.30" x2="333.50" y2="380.30" stroke="#f62a68" stroke-width="1.4" />
<line x1="330.10" y1="366.30" x2="336.90" y2="366.30" stroke="#f62a68" stroke-width="1.4" />
<line x1="330.10" y1="380.30" x2="336.90" y2="380.30" stroke="#f62a68" stroke-width="1.4" />
<circle cx="333.50" cy="373.70" r="3.7" fill="#f62a68" />
<line x1="355.20" y1="400.60" x2="355.20" y2="402.60" stroke="#2c2cf6" stroke-width="1.4" />
<line x1="351.80" y1="400.60" x2="358.60" y2="400.60" stroke="#2c2cf6" stroke-width="1.4" />
<line x1="351.80" y1="402.60" x2="358.60" y2="402.60" stroke="#2c2cf6" stroke-width="1.4" />
<circle cx="355.20" cy="401.60" r="3.7" fill="#2c2cf6" />
<line x1="377.00" y1="372.10" x2="377.00" y2="379.90" stroke="#8a24f4" stroke-width="1.4" />
<line x1="373.60" y1="372.10" x2="380.40" y2="372.10" stroke="#8a24f4" stroke-width="1.4" />
<line x1="373.60" y1="379.90" x2="380.40" y2="379.90" stroke="#8a24f4" stroke-width="1.4" />
<circle cx="377.00" cy="376.40" r="3.7" fill="#8a24f4" />
<line x1="355.00" y1="335.60" x2="375.70" y2="335.60" stroke="#111111" stroke-width="1.4" />
<polygon points="359.90,328.70 360.52,330.25 362.18,330.36 360.90,331.42 361.31,333.04 359.90,332.15 358.49,333.04 358.90,331.42 357.62,330.36 359.28,330.25" fill="#111111"/>
<polygon points="365.70,328.70 366.32,330.25 367.98,330.36 366.70,331.42 367.11,333.04 365.70,332.15 364.29,333.04 364.70,331.42 363.42,330.36 365.08,330.25" fill="#111111"/>
<polygon points="371.40,328.70 372.02,330.25 373.68,330.36 372.40,331.42 372.81,333.04 371.40,332.15 369.99,333.04 370.40,331.42 369.12,330.36 370.78,330.25" fill="#111111"/>
<text transform="translate(281.8,420.3) rotate(-90)" font-size="14.6" fill="#111111">Tau<tspan font-size="10.2" dy="3.8">onset</tspan><tspan dy="-3.8"> (ms)</tspan></text>
<text transform="translate(335.50,461.50) rotate(-60)" font-size="9.4" fill="#f62a68" stroke="#f62a68" stroke-width="0.2" text-anchor="end">Fovea</text>
<text transform="translate(358.50,461.50) rotate(-60)" font-size="9.4" fill="#2c2cf6" stroke="#2c2cf6" stroke-width="0.2" text-anchor="end">Periphery</text>
<text transform="translate(381.00,461.50) rotate(-60)" font-size="9.4" fill="#8a36d8" stroke="#8a36d8" stroke-width="0.2" text-anchor="end">S cone</text>
<line x1="461.90" y1="313.90" x2="461.90" y2="449.90" stroke="#111111" stroke-width="1.3" />
<line x1="458.40" y1="314.00" x2="461.90" y2="314.00" stroke="#111111" stroke-width="1.3" />
<line x1="458.60" y1="404.40" x2="461.90" y2="404.40" stroke="#111111" stroke-width="1.3" />
<line x1="454.40" y1="359.30" x2="461.90" y2="359.30" stroke="#111111" stroke-width="1.3" />
<text x="451.00" y="364.50" font-size="14.6" fill="#111111"  text-anchor="end" >200</text>
<line x1="454.40" y1="449.50" x2="461.90" y2="449.50" stroke="#111111" stroke-width="1.3" />
<text x="451.00" y="454.70" font-size="14.6" fill="#111111"  text-anchor="end" >0</text>
<line x1="465.20" y1="453.10" x2="534.20" y2="453.10" stroke="#111111" stroke-width="1.3" />
<circle cx="476.70" cy="328.70" r="2.15" fill="none" stroke="#f0a2cb" stroke-width="1.15"/>
<circle cx="476.70" cy="333.30" r="2.15" fill="none" stroke="#f0a2cb" stroke-width="1.15"/>
<circle cx="476.70" cy="336.10" r="2.15" fill="none" stroke="#f0a2cb" stroke-width="1.15"/>
<circle cx="476.70" cy="349.70" r="2.15" fill="none" stroke="#f0a2cb" stroke-width="1.15"/>
<circle cx="476.70" cy="351.30" r="2.15" fill="none" stroke="#f0a2cb" stroke-width="1.15"/>
<circle cx="476.70" cy="354.40" r="2.15" fill="none" stroke="#f0a2cb" stroke-width="1.15"/>
<circle cx="476.70" cy="375.40" r="2.15" fill="none" stroke="#f0a2cb" stroke-width="1.15"/>
<circle cx="476.70" cy="390.00" r="2.15" fill="none" stroke="#f0a2cb" stroke-width="1.15"/>
<circle cx="476.70" cy="395.80" r="2.15" fill="none" stroke="#f0a2cb" stroke-width="1.15"/>
<circle cx="476.70" cy="402.00" r="2.15" fill="none" stroke="#f0a2cb" stroke-width="1.15"/>
<circle cx="476.70" cy="406.30" r="2.15" fill="none" stroke="#f0a2cb" stroke-width="1.15"/>
<circle cx="500.00" cy="374.50" r="2.15" fill="none" stroke="#b4c5f7" stroke-width="1.15"/>
<circle cx="500.00" cy="378.00" r="2.15" fill="none" stroke="#b4c5f7" stroke-width="1.15"/>
<circle cx="500.00" cy="381.50" r="2.15" fill="none" stroke="#b4c5f7" stroke-width="1.15"/>
<circle cx="500.00" cy="385.00" r="2.15" fill="none" stroke="#b4c5f7" stroke-width="1.15"/>
<circle cx="500.00" cy="388.00" r="2.15" fill="none" stroke="#b4c5f7" stroke-width="1.15"/>
<circle cx="500.00" cy="391.00" r="2.15" fill="none" stroke="#b4c5f7" stroke-width="1.15"/>
<circle cx="500.00" cy="394.00" r="2.15" fill="none" stroke="#b4c5f7" stroke-width="1.15"/>
<circle cx="500.00" cy="397.00" r="2.15" fill="none" stroke="#b4c5f7" stroke-width="1.15"/>
<circle cx="500.00" cy="400.00" r="2.15" fill="none" stroke="#b4c5f7" stroke-width="1.15"/>
<circle cx="500.00" cy="403.00" r="2.15" fill="none" stroke="#b4c5f7" stroke-width="1.15"/>
<circle cx="500.00" cy="406.00" r="2.15" fill="none" stroke="#b4c5f7" stroke-width="1.15"/>
<circle cx="500.00" cy="409.50" r="2.15" fill="none" stroke="#b4c5f7" stroke-width="1.15"/>
<circle cx="523.00" cy="328.70" r="2.15" fill="none" stroke="#b68ae9" stroke-width="1.15"/>
<circle cx="523.00" cy="356.70" r="2.15" fill="none" stroke="#b68ae9" stroke-width="1.15"/>
<circle cx="523.00" cy="391.00" r="2.15" fill="none" stroke="#b68ae9" stroke-width="1.15"/>
<circle cx="523.00" cy="397.00" r="2.15" fill="none" stroke="#b68ae9" stroke-width="1.15"/>
<circle cx="523.00" cy="417.40" r="2.15" fill="none" stroke="#b68ae9" stroke-width="1.15"/>
<line x1="476.70" y1="358.40" x2="476.70" y2="374.70" stroke="#f62a68" stroke-width="1.4" />
<line x1="473.30" y1="358.40" x2="480.10" y2="358.40" stroke="#f62a68" stroke-width="1.4" />
<line x1="473.30" y1="374.70" x2="480.10" y2="374.70" stroke="#f62a68" stroke-width="1.4" />
<circle cx="476.70" cy="367.00" r="3.7" fill="#f62a68" />
<line x1="500.00" y1="391.50" x2="500.00" y2="393.10" stroke="#2c2cf6" stroke-width="1.4" />
<line x1="496.60" y1="391.50" x2="503.40" y2="391.50" stroke="#2c2cf6" stroke-width="1.4" />
<line x1="496.60" y1="393.10" x2="503.40" y2="393.10" stroke="#2c2cf6" stroke-width="1.4" />
<circle cx="500.00" cy="392.30" r="3.7" fill="#2c2cf6" />
<line x1="523.00" y1="368.20" x2="523.00" y2="386.90" stroke="#8a24f4" stroke-width="1.4" />
<line x1="519.60" y1="368.20" x2="526.40" y2="368.20" stroke="#8a24f4" stroke-width="1.4" />
<line x1="519.60" y1="386.90" x2="526.40" y2="386.90" stroke="#8a24f4" stroke-width="1.4" />
<circle cx="523.00" cy="377.00" r="3.7" fill="#8a24f4" />
<line x1="500.10" y1="316.50" x2="520.90" y2="316.50" stroke="#111111" stroke-width="1.4" />
<polygon points="511.10,309.90 511.72,311.45 513.38,311.56 512.10,312.62 512.51,314.24 511.10,313.35 509.69,314.24 510.10,312.62 508.82,311.56 510.48,311.45" fill="#111111"/>
<text transform="translate(418.9,421.5) rotate(-90)" font-size="14.6" fill="#111111">Tau<tspan font-size="10.2" dy="3.5">offset</tspan><tspan dy="-3.5"> (ms)</tspan></text>
<text transform="translate(480.70,461.50) rotate(-60)" font-size="9.4" fill="#f62a68" stroke="#f62a68" stroke-width="0.2" text-anchor="end">Fovea</text>
<text transform="translate(502.30,461.50) rotate(-60)" font-size="9.4" fill="#2c2cf6" stroke="#2c2cf6" stroke-width="0.2" text-anchor="end">Periphery</text>
<text transform="translate(525.00,461.50) rotate(-60)" font-size="9.4" fill="#8a36d8" stroke="#8a36d8" stroke-width="0.2" text-anchor="end">S cone</text>
<line x1="606.80" y1="319.20" x2="606.80" y2="450.90" stroke="#111111" stroke-width="1.3" />
<line x1="598.50" y1="340.30" x2="606.80" y2="340.30" stroke="#111111" stroke-width="1.3" />
<text x="595.40" y="345.50" font-size="14.6" fill="#111111"  text-anchor="end" >10</text>
<line x1="598.50" y1="395.30" x2="606.80" y2="395.30" stroke="#111111" stroke-width="1.3" />
<text x="595.40" y="400.50" font-size="14.6" fill="#111111"  text-anchor="end" >5</text>
<line x1="598.50" y1="450.60" x2="606.80" y2="450.60" stroke="#111111" stroke-width="1.3" />
<text x="595.40" y="455.80" font-size="14.6" fill="#111111"  text-anchor="end" >0</text>
<line x1="614.40" y1="451.00" x2="679.00" y2="451.00" stroke="#111111" stroke-width="1.3" />
<circle cx="625.00" cy="352.70" r="2.15" fill="none" stroke="#f0a2cb" stroke-width="1.15"/>
<circle cx="625.00" cy="357.80" r="2.15" fill="none" stroke="#f0a2cb" stroke-width="1.15"/>
<circle cx="625.00" cy="361.30" r="2.15" fill="none" stroke="#f0a2cb" stroke-width="1.15"/>
<circle cx="625.00" cy="388.20" r="2.15" fill="none" stroke="#f0a2cb" stroke-width="1.15"/>
<circle cx="625.00" cy="389.40" r="2.15" fill="none" stroke="#f0a2cb" stroke-width="1.15"/>
<circle cx="625.00" cy="401.10" r="2.15" fill="none" stroke="#f0a2cb" stroke-width="1.15"/>
<circle cx="625.00" cy="404.60" r="2.15" fill="none" stroke="#f0a2cb" stroke-width="1.15"/>
<circle cx="646.50" cy="342.60" r="2.15" fill="none" stroke="#b4c5f7" stroke-width="1.15"/>
<circle cx="646.50" cy="345.00" r="2.15" fill="none" stroke="#b4c5f7" stroke-width="1.15"/>
<circle cx="646.50" cy="347.30" r="2.15" fill="none" stroke="#b4c5f7" stroke-width="1.15"/>
<circle cx="646.50" cy="349.70" r="2.15" fill="none" stroke="#b4c5f7" stroke-width="1.15"/>
<circle cx="646.50" cy="352.00" r="2.15" fill="none" stroke="#b4c5f7" stroke-width="1.15"/>
<circle cx="646.50" cy="357.80" r="2.15" fill="none" stroke="#b4c5f7" stroke-width="1.15"/>
<circle cx="646.50" cy="364.90" r="2.15" fill="none" stroke="#b4c5f7" stroke-width="1.15"/>
<circle cx="646.50" cy="367.20" r="2.15" fill="none" stroke="#b4c5f7" stroke-width="1.15"/>
<circle cx="646.50" cy="380.00" r="2.15" fill="none" stroke="#b4c5f7" stroke-width="1.15"/>
<circle cx="646.50" cy="385.90" r="2.15" fill="none" stroke="#b4c5f7" stroke-width="1.15"/>
<circle cx="646.50" cy="390.60" r="2.15" fill="none" stroke="#b4c5f7" stroke-width="1.15"/>
<circle cx="646.50" cy="397.60" r="2.15" fill="none" stroke="#b4c5f7" stroke-width="1.15"/>
<circle cx="646.50" cy="400.00" r="2.15" fill="none" stroke="#b4c5f7" stroke-width="1.15"/>
<circle cx="646.50" cy="405.80" r="2.15" fill="none" stroke="#b4c5f7" stroke-width="1.15"/>
<circle cx="646.50" cy="418.30" r="2.15" fill="none" stroke="#b4c5f7" stroke-width="1.15"/>
<circle cx="668.10" cy="347.30" r="2.15" fill="none" stroke="#b68ae9" stroke-width="1.15"/>
<circle cx="668.10" cy="357.80" r="2.15" fill="none" stroke="#b68ae9" stroke-width="1.15"/>
<circle cx="668.10" cy="397.60" r="2.15" fill="none" stroke="#b68ae9" stroke-width="1.15"/>
<circle cx="668.10" cy="416.20" r="2.15" fill="none" stroke="#b68ae9" stroke-width="1.15"/>
<circle cx="668.10" cy="428.70" r="2.15" fill="none" stroke="#b68ae9" stroke-width="1.15"/>
<line x1="625.00" y1="374.70" x2="625.00" y2="385.90" stroke="#f62a68" stroke-width="1.4" />
<line x1="621.60" y1="374.70" x2="628.40" y2="374.70" stroke="#f62a68" stroke-width="1.4" />
<line x1="621.60" y1="385.90" x2="628.40" y2="385.90" stroke="#f62a68" stroke-width="1.4" />
<circle cx="625.00" cy="380.80" r="3.7" fill="#f62a68" />
<line x1="646.50" y1="367.20" x2="646.50" y2="375.80" stroke="#2c2cf6" stroke-width="1.4" />
<line x1="643.10" y1="367.20" x2="649.90" y2="367.20" stroke="#2c2cf6" stroke-width="1.4" />
<line x1="643.10" y1="375.80" x2="649.90" y2="375.80" stroke="#2c2cf6" stroke-width="1.4" />
<circle cx="646.50" cy="371.90" r="3.7" fill="#2c2cf6" />
<line x1="668.10" y1="378.20" x2="668.10" y2="395.70" stroke="#8a24f4" stroke-width="1.4" />
<line x1="664.70" y1="378.20" x2="671.50" y2="378.20" stroke="#8a24f4" stroke-width="1.4" />
<line x1="664.70" y1="395.70" x2="671.50" y2="395.70" stroke="#8a24f4" stroke-width="1.4" />
<circle cx="668.10" cy="386.60" r="3.7" fill="#8a24f4" />
<text transform="translate(570.9,438.3) rotate(-90)" font-size="14.6" fill="#111111">Tau<tspan font-size="10.2" dy="3.3">offset</tspan><tspan dy="-3.3">/Tau</tspan><tspan font-size="10.2" dy="3.3">onset</tspan></text>
<text transform="translate(629.00,461.50) rotate(-60)" font-size="9.4" fill="#f62a68" stroke="#f62a68" stroke-width="0.2" text-anchor="end">Fovea</text>
<text transform="translate(649.80,461.50) rotate(-60)" font-size="9.4" fill="#2c2cf6" stroke="#2c2cf6" stroke-width="0.2" text-anchor="end">Periphery</text>
<text transform="translate(673.10,461.50) rotate(-60)" font-size="9.4" fill="#8a36d8" stroke="#8a36d8" stroke-width="0.2" text-anchor="end">S cone</text>
</svg>
</body></html>
